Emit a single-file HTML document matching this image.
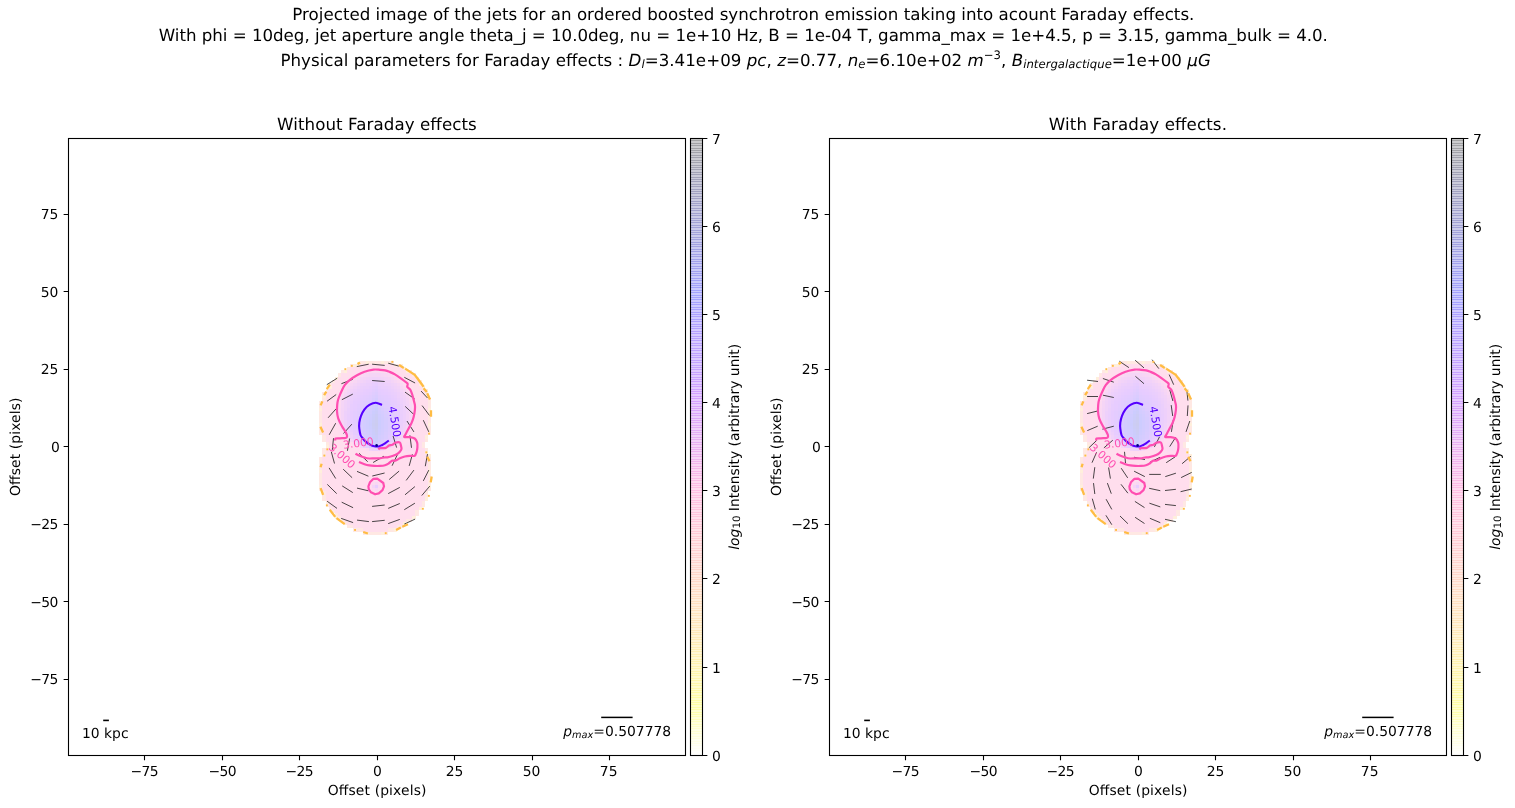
<!DOCTYPE html>
<html lang="en"><head><meta charset="utf-8"><title>Projected image of the jets</title>
<style>html,body{margin:0;padding:0;background:#fff}svg{display:block;will-change:transform;font-family:"DejaVu Sans","Liberation Sans",sans-serif;fill:#000;text-rendering:geometricPrecision}</style></head><body>
<svg width="1515" height="808" viewBox="0 0 1515 808">
<rect width="1515" height="808" fill="#fff"/>
<text x="743.35" y="19.80" font-size="16.667" text-anchor="middle" textLength="902.1">Projected image of the jets for an ordered boosted synchrotron emission taking into acount Faraday effects.</text>
<text x="743.30" y="41.30" font-size="16.667" text-anchor="middle" textLength="1169.1">With phi = 10deg, jet aperture angle theta_j = 10.0deg, nu = 1e+10 Hz, B = 1e-04 T, gamma_max = 1e+4.5, p = 3.15, gamma_bulk = 4.0.</text>
<text x="745.65" y="65.6" font-size="16.667" text-anchor="middle" textLength="930.4">Physical parameters for Faraday effects : <tspan font-style="italic">D</tspan><tspan font-style="italic" font-size="11.67" dy="2.6">l</tspan><tspan dy="-2.6">=3.41e+09 </tspan><tspan font-style="italic">pc</tspan>, <tspan font-style="italic">z</tspan>=0.77, <tspan font-style="italic">n</tspan><tspan font-style="italic" font-size="11.67" dy="2.6">e</tspan><tspan dy="-2.6">=6.10e+02 </tspan><tspan font-style="italic">m</tspan><tspan font-size="11.67" dy="-6.3">−3</tspan><tspan dy="6.3">, </tspan><tspan font-style="italic">B</tspan><tspan font-style="italic" font-size="11.67" dy="2.6">intergalactique</tspan><tspan dy="-2.6">=1e+00 </tspan><tspan font-style="italic">μG</tspan></text>
<g transform="translate(0.0,0)">
<g id="jetimg"><g shape-rendering="crispEdges"><rect x="359.6" y="361.0" width="6.3" height="3.15" fill="#ffe8e3"/><rect x="365.8" y="361.0" width="3.2" height="3.15" fill="#ffefdc"/><rect x="368.9" y="361.0" width="12.5" height="3.15" fill="#ffe8e3"/><rect x="381.3" y="361.0" width="3.2" height="3.15" fill="#ffefdc"/><rect x="384.4" y="361.0" width="9.4" height="3.15" fill="#ffe8e3"/><rect x="350.3" y="364.1" width="3.2" height="3.15" fill="#ffe8e3"/><rect x="353.4" y="364.1" width="3.2" height="3.15" fill="#ffefdc"/><rect x="356.5" y="364.1" width="3.2" height="3.15" fill="#ffe8e3"/><rect x="359.6" y="364.1" width="9.4" height="3.15" fill="#ffdeed"/><rect x="368.9" y="364.1" width="12.5" height="3.15" fill="#ffddee"/><rect x="381.3" y="364.1" width="12.5" height="3.15" fill="#ffdeed"/><rect x="393.7" y="364.1" width="6.3" height="3.15" fill="#ffe8e3"/><rect x="399.9" y="364.1" width="3.2" height="3.15" fill="#ffefdc"/><rect x="347.2" y="367.2" width="3.2" height="3.15" fill="#ffe8e3"/><rect x="350.3" y="367.2" width="9.4" height="3.15" fill="#ffdeed"/><rect x="359.6" y="367.2" width="6.3" height="3.15" fill="#ffddee"/><rect x="365.8" y="367.2" width="21.8" height="3.15" fill="#ffdcef"/><rect x="387.5" y="367.2" width="6.3" height="3.15" fill="#ffddee"/><rect x="393.7" y="367.2" width="9.4" height="3.15" fill="#ffdeed"/><rect x="403.0" y="367.2" width="3.2" height="3.15" fill="#ffefdc"/><rect x="341.0" y="370.3" width="3.2" height="3.15" fill="#ffe8e3"/><rect x="344.1" y="370.3" width="3.2" height="3.15" fill="#ffefdc"/><rect x="347.2" y="370.3" width="6.3" height="3.15" fill="#ffdeed"/><rect x="353.4" y="370.3" width="3.2" height="3.15" fill="#ffddee"/><rect x="356.5" y="370.3" width="9.4" height="3.15" fill="#ffdcef"/><rect x="365.8" y="370.3" width="3.2" height="3.15" fill="#fcdaf1"/><rect x="368.9" y="370.3" width="12.5" height="3.15" fill="#fbd9f2"/><rect x="381.3" y="370.3" width="3.2" height="3.15" fill="#fcdaf1"/><rect x="384.4" y="370.3" width="3.2" height="3.15" fill="#fedaf1"/><rect x="387.5" y="370.3" width="6.3" height="3.15" fill="#ffdcef"/><rect x="393.7" y="370.3" width="3.2" height="3.15" fill="#ffddee"/><rect x="396.8" y="370.3" width="9.4" height="3.15" fill="#ffdeed"/><rect x="406.1" y="370.3" width="3.2" height="3.15" fill="#ffefdc"/><rect x="409.2" y="370.3" width="3.2" height="3.15" fill="#ffe8e3"/><rect x="337.9" y="373.4" width="3.2" height="3.15" fill="#ffe8e3"/><rect x="341.0" y="373.4" width="9.4" height="3.15" fill="#ffdeed"/><rect x="350.3" y="373.4" width="3.2" height="3.15" fill="#ffddee"/><rect x="353.4" y="373.4" width="3.2" height="3.15" fill="#ffdcef"/><rect x="356.5" y="373.4" width="3.2" height="3.15" fill="#fedaf1"/><rect x="359.6" y="373.4" width="3.2" height="3.15" fill="#fbd9f2"/><rect x="362.7" y="373.4" width="3.2" height="3.15" fill="#f8d7f4"/><rect x="365.8" y="373.4" width="3.2" height="3.15" fill="#f7d6f5"/><rect x="368.9" y="373.4" width="12.5" height="3.15" fill="#f5d5f6"/><rect x="381.3" y="373.4" width="3.2" height="3.15" fill="#f7d6f5"/><rect x="384.4" y="373.4" width="3.2" height="3.15" fill="#f8d7f4"/><rect x="387.5" y="373.4" width="3.2" height="3.15" fill="#fad8f3"/><rect x="390.6" y="373.4" width="3.2" height="3.15" fill="#fcdaf1"/><rect x="393.7" y="373.4" width="6.3" height="3.15" fill="#ffdcef"/><rect x="399.9" y="373.4" width="3.2" height="3.15" fill="#ffddee"/><rect x="403.0" y="373.4" width="9.4" height="3.15" fill="#ffdeed"/><rect x="412.3" y="373.4" width="3.2" height="3.15" fill="#ffe8e3"/><rect x="334.8" y="376.5" width="3.2" height="3.15" fill="#ffefdc"/><rect x="337.9" y="376.5" width="9.4" height="3.15" fill="#ffdeed"/><rect x="347.2" y="376.5" width="3.2" height="3.15" fill="#ffddee"/><rect x="350.3" y="376.5" width="3.2" height="3.15" fill="#ffdcef"/><rect x="353.4" y="376.5" width="3.2" height="3.15" fill="#fcdaf1"/><rect x="356.5" y="376.5" width="3.2" height="3.15" fill="#f8d7f4"/><rect x="359.6" y="376.5" width="3.2" height="3.15" fill="#f5d5f6"/><rect x="362.7" y="376.5" width="3.2" height="3.15" fill="#f4d4f7"/><rect x="365.8" y="376.5" width="3.2" height="3.15" fill="#f2d3f8"/><rect x="368.9" y="376.5" width="3.2" height="3.15" fill="#f1d2f9"/><rect x="372.0" y="376.5" width="6.3" height="3.15" fill="#f0d2f9"/><rect x="378.2" y="376.5" width="3.2" height="3.15" fill="#f1d2f9"/><rect x="381.3" y="376.5" width="3.2" height="3.15" fill="#f2d3f8"/><rect x="384.4" y="376.5" width="3.2" height="3.15" fill="#f4d4f7"/><rect x="387.5" y="376.5" width="3.2" height="3.15" fill="#f5d5f6"/><rect x="390.6" y="376.5" width="3.2" height="3.15" fill="#f8d7f4"/><rect x="393.7" y="376.5" width="3.2" height="3.15" fill="#fbd9f2"/><rect x="396.8" y="376.5" width="3.2" height="3.15" fill="#fedaf1"/><rect x="399.9" y="376.5" width="3.2" height="3.15" fill="#ffdcef"/><rect x="403.0" y="376.5" width="3.2" height="3.15" fill="#ffddee"/><rect x="406.1" y="376.5" width="9.4" height="3.15" fill="#ffdeed"/><rect x="415.4" y="376.5" width="3.2" height="3.15" fill="#ffe8e3"/><rect x="331.7" y="379.6" width="3.2" height="3.15" fill="#ffe8e3"/><rect x="334.8" y="379.6" width="9.4" height="3.15" fill="#ffdeed"/><rect x="344.1" y="379.6" width="3.2" height="3.15" fill="#ffddee"/><rect x="347.2" y="379.6" width="3.2" height="3.15" fill="#ffdcef"/><rect x="350.3" y="379.6" width="3.2" height="3.15" fill="#fbd9f2"/><rect x="353.4" y="379.6" width="3.2" height="3.15" fill="#f8d7f4"/><rect x="356.5" y="379.6" width="3.2" height="3.15" fill="#f4d4f7"/><rect x="359.6" y="379.6" width="3.2" height="3.15" fill="#f2d3f8"/><rect x="362.7" y="379.6" width="3.2" height="3.15" fill="#f0d2f9"/><rect x="365.8" y="379.6" width="6.3" height="3.15" fill="#eed0fb"/><rect x="372.0" y="379.6" width="3.2" height="3.15" fill="#ebcffc"/><rect x="375.1" y="379.6" width="3.2" height="3.15" fill="#eacefd"/><rect x="378.2" y="379.6" width="6.3" height="3.15" fill="#eed0fb"/><rect x="384.4" y="379.6" width="3.2" height="3.15" fill="#f0d2f9"/><rect x="387.5" y="379.6" width="3.2" height="3.15" fill="#f1d2f9"/><rect x="390.6" y="379.6" width="3.2" height="3.15" fill="#f4d4f7"/><rect x="393.7" y="379.6" width="3.2" height="3.15" fill="#f7d6f5"/><rect x="396.8" y="379.6" width="3.2" height="3.15" fill="#fad8f3"/><rect x="399.9" y="379.6" width="3.2" height="3.15" fill="#fedaf1"/><rect x="403.0" y="379.6" width="3.2" height="3.15" fill="#ffdcef"/><rect x="406.1" y="379.6" width="3.2" height="3.15" fill="#ffddee"/><rect x="409.2" y="379.6" width="9.4" height="3.15" fill="#ffdeed"/><rect x="418.5" y="379.6" width="3.2" height="3.15" fill="#ffe8e3"/><rect x="328.6" y="382.7" width="3.2" height="3.15" fill="#ffe8e3"/><rect x="331.7" y="382.7" width="9.4" height="3.15" fill="#ffdeed"/><rect x="341.0" y="382.7" width="3.2" height="3.15" fill="#ffddee"/><rect x="344.1" y="382.7" width="3.2" height="3.15" fill="#ffdcef"/><rect x="347.2" y="382.7" width="3.2" height="3.15" fill="#fcdaf1"/><rect x="350.3" y="382.7" width="3.2" height="3.15" fill="#f7d6f5"/><rect x="353.4" y="382.7" width="3.2" height="3.15" fill="#f4d4f7"/><rect x="356.5" y="382.7" width="3.2" height="3.15" fill="#f1d2f9"/><rect x="359.6" y="382.7" width="3.2" height="3.15" fill="#eed0fb"/><rect x="362.7" y="382.7" width="3.2" height="3.15" fill="#edd0fb"/><rect x="365.8" y="382.7" width="6.3" height="3.15" fill="#ebcffc"/><rect x="372.0" y="382.7" width="3.2" height="3.15" fill="#e8cdfe"/><rect x="375.1" y="382.7" width="3.2" height="3.15" fill="#e7ccff"/><rect x="378.2" y="382.7" width="6.3" height="3.15" fill="#ebcffc"/><rect x="384.4" y="382.7" width="3.2" height="3.15" fill="#edd0fb"/><rect x="387.5" y="382.7" width="3.2" height="3.15" fill="#eed0fb"/><rect x="390.6" y="382.7" width="3.2" height="3.15" fill="#f0d2f9"/><rect x="393.7" y="382.7" width="3.2" height="3.15" fill="#f2d3f8"/><rect x="396.8" y="382.7" width="3.2" height="3.15" fill="#f5d5f6"/><rect x="399.9" y="382.7" width="3.2" height="3.15" fill="#fad8f3"/><rect x="403.0" y="382.7" width="3.2" height="3.15" fill="#fedaf1"/><rect x="406.1" y="382.7" width="3.2" height="3.15" fill="#ffdcef"/><rect x="409.2" y="382.7" width="9.4" height="3.15" fill="#ffdeed"/><rect x="418.5" y="382.7" width="3.2" height="3.15" fill="#ffefdc"/><rect x="328.6" y="385.8" width="3.2" height="3.15" fill="#ffefdc"/><rect x="331.7" y="385.8" width="9.4" height="3.15" fill="#ffdeed"/><rect x="341.0" y="385.8" width="3.2" height="3.15" fill="#ffdcef"/><rect x="344.1" y="385.8" width="3.2" height="3.15" fill="#fcdaf1"/><rect x="347.2" y="385.8" width="3.2" height="3.15" fill="#f8d7f4"/><rect x="350.3" y="385.8" width="3.2" height="3.15" fill="#f4d4f7"/><rect x="353.4" y="385.8" width="3.2" height="3.15" fill="#f1d2f9"/><rect x="356.5" y="385.8" width="3.2" height="3.15" fill="#eed0fb"/><rect x="359.6" y="385.8" width="3.2" height="3.15" fill="#ebcffc"/><rect x="362.7" y="385.8" width="6.3" height="3.15" fill="#eacefd"/><rect x="368.9" y="385.8" width="3.2" height="3.15" fill="#e8cdfe"/><rect x="372.0" y="385.8" width="3.2" height="3.15" fill="#e6ccff"/><rect x="375.1" y="385.8" width="3.2" height="3.15" fill="#e3ccff"/><rect x="378.2" y="385.8" width="3.2" height="3.15" fill="#e8cdfe"/><rect x="381.3" y="385.8" width="6.3" height="3.15" fill="#eacefd"/><rect x="387.5" y="385.8" width="3.2" height="3.15" fill="#ebcffc"/><rect x="390.6" y="385.8" width="3.2" height="3.15" fill="#eed0fb"/><rect x="393.7" y="385.8" width="3.2" height="3.15" fill="#f0d2f9"/><rect x="396.8" y="385.8" width="3.2" height="3.15" fill="#f2d3f8"/><rect x="399.9" y="385.8" width="3.2" height="3.15" fill="#f7d6f5"/><rect x="403.0" y="385.8" width="3.2" height="3.15" fill="#fbd9f2"/><rect x="406.1" y="385.8" width="3.2" height="3.15" fill="#ffdcef"/><rect x="409.2" y="385.8" width="3.2" height="3.15" fill="#ffddee"/><rect x="412.3" y="385.8" width="9.4" height="3.15" fill="#ffdeed"/><rect x="421.6" y="385.8" width="3.2" height="3.15" fill="#ffefdc"/><rect x="325.5" y="388.9" width="3.2" height="3.15" fill="#ffe8e3"/><rect x="328.6" y="388.9" width="9.4" height="3.15" fill="#ffdeed"/><rect x="337.9" y="388.9" width="3.2" height="3.15" fill="#ffddee"/><rect x="341.0" y="388.9" width="3.2" height="3.15" fill="#ffdcef"/><rect x="344.1" y="388.9" width="3.2" height="3.15" fill="#fad8f3"/><rect x="347.2" y="388.9" width="3.2" height="3.15" fill="#f5d5f6"/><rect x="350.3" y="388.9" width="3.2" height="3.15" fill="#f1d2f9"/><rect x="353.4" y="388.9" width="3.2" height="3.15" fill="#eed0fb"/><rect x="356.5" y="388.9" width="3.2" height="3.15" fill="#ebcffc"/><rect x="359.6" y="388.9" width="3.2" height="3.15" fill="#eacefd"/><rect x="362.7" y="388.9" width="3.2" height="3.15" fill="#e8cdfe"/><rect x="365.8" y="388.9" width="6.3" height="3.15" fill="#e7ccff"/><rect x="372.0" y="388.9" width="3.2" height="3.15" fill="#e3ccff"/><rect x="375.1" y="388.9" width="3.2" height="3.15" fill="#e0ccff"/><rect x="378.2" y="388.9" width="3.2" height="3.15" fill="#e6ccff"/><rect x="381.3" y="388.9" width="3.2" height="3.15" fill="#e7ccff"/><rect x="384.4" y="388.9" width="3.2" height="3.15" fill="#e8cdfe"/><rect x="387.5" y="388.9" width="3.2" height="3.15" fill="#eacefd"/><rect x="390.6" y="388.9" width="3.2" height="3.15" fill="#ebcffc"/><rect x="393.7" y="388.9" width="3.2" height="3.15" fill="#eed0fb"/><rect x="396.8" y="388.9" width="3.2" height="3.15" fill="#f0d2f9"/><rect x="399.9" y="388.9" width="3.2" height="3.15" fill="#f4d4f7"/><rect x="403.0" y="388.9" width="3.2" height="3.15" fill="#f7d6f5"/><rect x="406.1" y="388.9" width="3.2" height="3.15" fill="#fcdaf1"/><rect x="409.2" y="388.9" width="3.2" height="3.15" fill="#ffdcef"/><rect x="412.3" y="388.9" width="3.2" height="3.15" fill="#ffddee"/><rect x="415.4" y="388.9" width="9.4" height="3.15" fill="#ffdeed"/><rect x="424.7" y="388.9" width="3.2" height="3.15" fill="#ffefdc"/><rect x="322.4" y="392.0" width="3.2" height="3.15" fill="#ffe8e3"/><rect x="325.5" y="392.0" width="12.5" height="3.15" fill="#ffdeed"/><rect x="337.9" y="392.0" width="3.2" height="3.15" fill="#ffdcef"/><rect x="341.0" y="392.0" width="3.2" height="3.15" fill="#fcdaf1"/><rect x="344.1" y="392.0" width="3.2" height="3.15" fill="#f7d6f5"/><rect x="347.2" y="392.0" width="3.2" height="3.15" fill="#f2d3f8"/><rect x="350.3" y="392.0" width="3.2" height="3.15" fill="#eed0fb"/><rect x="353.4" y="392.0" width="3.2" height="3.15" fill="#ebcffc"/><rect x="356.5" y="392.0" width="3.2" height="3.15" fill="#eacefd"/><rect x="359.6" y="392.0" width="3.2" height="3.15" fill="#e8cdfe"/><rect x="362.7" y="392.0" width="3.2" height="3.15" fill="#e7ccff"/><rect x="365.8" y="392.0" width="3.2" height="3.15" fill="#e6ccff"/><rect x="368.9" y="392.0" width="3.2" height="3.15" fill="#e4ccff"/><rect x="372.0" y="392.0" width="3.2" height="3.15" fill="#e0ccff"/><rect x="375.1" y="392.0" width="3.2" height="3.15" fill="#ddccff"/><rect x="378.2" y="392.0" width="3.2" height="3.15" fill="#e4ccff"/><rect x="381.3" y="392.0" width="3.2" height="3.15" fill="#e6ccff"/><rect x="384.4" y="392.0" width="3.2" height="3.15" fill="#e7ccff"/><rect x="387.5" y="392.0" width="3.2" height="3.15" fill="#e8cdfe"/><rect x="390.6" y="392.0" width="3.2" height="3.15" fill="#eacefd"/><rect x="393.7" y="392.0" width="3.2" height="3.15" fill="#ebcffc"/><rect x="396.8" y="392.0" width="3.2" height="3.15" fill="#eed0fb"/><rect x="399.9" y="392.0" width="3.2" height="3.15" fill="#f1d2f9"/><rect x="403.0" y="392.0" width="3.2" height="3.15" fill="#f5d5f6"/><rect x="406.1" y="392.0" width="3.2" height="3.15" fill="#fad8f3"/><rect x="409.2" y="392.0" width="3.2" height="3.15" fill="#ffdcef"/><rect x="412.3" y="392.0" width="3.2" height="3.15" fill="#ffddee"/><rect x="415.4" y="392.0" width="9.4" height="3.15" fill="#ffdeed"/><rect x="424.7" y="392.0" width="3.2" height="3.15" fill="#ffe8e3"/><rect x="322.4" y="395.1" width="3.2" height="3.15" fill="#ffefdc"/><rect x="325.5" y="395.1" width="9.4" height="3.15" fill="#ffdeed"/><rect x="334.8" y="395.1" width="3.2" height="3.15" fill="#ffddee"/><rect x="337.9" y="395.1" width="3.2" height="3.15" fill="#ffdcef"/><rect x="341.0" y="395.1" width="3.2" height="3.15" fill="#fad8f3"/><rect x="344.1" y="395.1" width="3.2" height="3.15" fill="#f4d4f7"/><rect x="347.2" y="395.1" width="3.2" height="3.15" fill="#f0d2f9"/><rect x="350.3" y="395.1" width="3.2" height="3.15" fill="#edd0fb"/><rect x="353.4" y="395.1" width="3.2" height="3.15" fill="#eacefd"/><rect x="356.5" y="395.1" width="3.2" height="3.15" fill="#e8cdfe"/><rect x="359.6" y="395.1" width="3.2" height="3.15" fill="#e6ccff"/><rect x="362.7" y="395.1" width="3.2" height="3.15" fill="#e4ccff"/><rect x="365.8" y="395.1" width="3.2" height="3.15" fill="#e3ccff"/><rect x="368.9" y="395.1" width="3.2" height="3.15" fill="#e1ccff"/><rect x="372.0" y="395.1" width="3.2" height="3.15" fill="#ddccff"/><rect x="375.1" y="395.1" width="3.2" height="3.15" fill="#daccff"/><rect x="378.2" y="395.1" width="3.2" height="3.15" fill="#e1ccff"/><rect x="381.3" y="395.1" width="3.2" height="3.15" fill="#e3ccff"/><rect x="384.4" y="395.1" width="3.2" height="3.15" fill="#e4ccff"/><rect x="387.5" y="395.1" width="3.2" height="3.15" fill="#e6ccff"/><rect x="390.6" y="395.1" width="3.2" height="3.15" fill="#e8cdfe"/><rect x="393.7" y="395.1" width="3.2" height="3.15" fill="#eacefd"/><rect x="396.8" y="395.1" width="3.2" height="3.15" fill="#edd0fb"/><rect x="399.9" y="395.1" width="3.2" height="3.15" fill="#f0d2f9"/><rect x="403.0" y="395.1" width="3.2" height="3.15" fill="#f2d3f8"/><rect x="406.1" y="395.1" width="3.2" height="3.15" fill="#f7d6f5"/><rect x="409.2" y="395.1" width="3.2" height="3.15" fill="#fcdaf1"/><rect x="412.3" y="395.1" width="3.2" height="3.15" fill="#ffdcef"/><rect x="415.4" y="395.1" width="9.4" height="3.15" fill="#ffdeed"/><rect x="424.7" y="395.1" width="3.2" height="3.15" fill="#ffe8e3"/><rect x="322.4" y="398.2" width="3.2" height="3.15" fill="#ffe8e3"/><rect x="325.5" y="398.2" width="9.4" height="3.15" fill="#ffdeed"/><rect x="334.8" y="398.2" width="3.2" height="3.15" fill="#ffdcef"/><rect x="337.9" y="398.2" width="3.2" height="3.15" fill="#fedaf1"/><rect x="341.0" y="398.2" width="3.2" height="3.15" fill="#f8d7f4"/><rect x="344.1" y="398.2" width="3.2" height="3.15" fill="#f2d3f8"/><rect x="347.2" y="398.2" width="3.2" height="3.15" fill="#eed0fb"/><rect x="350.3" y="398.2" width="3.2" height="3.15" fill="#ebcffc"/><rect x="353.4" y="398.2" width="3.2" height="3.15" fill="#e8cdfe"/><rect x="356.5" y="398.2" width="3.2" height="3.15" fill="#e7ccff"/><rect x="359.6" y="398.2" width="3.2" height="3.15" fill="#e4ccff"/><rect x="362.7" y="398.2" width="3.2" height="3.15" fill="#e3ccff"/><rect x="365.8" y="398.2" width="3.2" height="3.15" fill="#e1ccff"/><rect x="368.9" y="398.2" width="3.2" height="3.15" fill="#e0ccff"/><rect x="372.0" y="398.2" width="3.2" height="3.15" fill="#daccff"/><rect x="375.1" y="398.2" width="3.2" height="3.15" fill="#d6ccff"/><rect x="378.2" y="398.2" width="3.2" height="3.15" fill="#e0ccff"/><rect x="381.3" y="398.2" width="3.2" height="3.15" fill="#e1ccff"/><rect x="384.4" y="398.2" width="3.2" height="3.15" fill="#e3ccff"/><rect x="387.5" y="398.2" width="3.2" height="3.15" fill="#e4ccff"/><rect x="390.6" y="398.2" width="3.2" height="3.15" fill="#e7ccff"/><rect x="393.7" y="398.2" width="3.2" height="3.15" fill="#e8cdfe"/><rect x="396.8" y="398.2" width="3.2" height="3.15" fill="#ebcffc"/><rect x="399.9" y="398.2" width="3.2" height="3.15" fill="#eed0fb"/><rect x="403.0" y="398.2" width="3.2" height="3.15" fill="#f1d2f9"/><rect x="406.1" y="398.2" width="3.2" height="3.15" fill="#f5d5f6"/><rect x="409.2" y="398.2" width="3.2" height="3.15" fill="#fbd9f2"/><rect x="412.3" y="398.2" width="3.2" height="3.15" fill="#ffdcef"/><rect x="415.4" y="398.2" width="3.2" height="3.15" fill="#ffddee"/><rect x="418.5" y="398.2" width="9.4" height="3.15" fill="#ffdeed"/><rect x="427.8" y="398.2" width="3.2" height="3.15" fill="#ffe8e3"/><rect x="319.3" y="401.3" width="3.2" height="3.15" fill="#ffe8e3"/><rect x="322.4" y="401.3" width="12.5" height="3.15" fill="#ffdeed"/><rect x="334.8" y="401.3" width="3.2" height="3.15" fill="#ffdcef"/><rect x="337.9" y="401.3" width="3.2" height="3.15" fill="#fcdaf1"/><rect x="341.0" y="401.3" width="3.2" height="3.15" fill="#f5d5f6"/><rect x="344.1" y="401.3" width="3.2" height="3.15" fill="#f1d2f9"/><rect x="347.2" y="401.3" width="3.2" height="3.15" fill="#edd0fb"/><rect x="350.3" y="401.3" width="3.2" height="3.15" fill="#eacefd"/><rect x="353.4" y="401.3" width="3.2" height="3.15" fill="#e7ccff"/><rect x="356.5" y="401.3" width="3.2" height="3.15" fill="#e6ccff"/><rect x="359.6" y="401.3" width="3.2" height="3.15" fill="#e3ccff"/><rect x="362.7" y="401.3" width="3.2" height="3.15" fill="#e0ccff"/><rect x="365.8" y="401.3" width="3.2" height="3.15" fill="#deccff"/><rect x="368.9" y="401.3" width="3.2" height="3.15" fill="#ddccff"/><rect x="372.0" y="401.3" width="3.2" height="3.15" fill="#d7ccff"/><rect x="375.1" y="401.3" width="3.2" height="3.15" fill="#d3ccff"/><rect x="378.2" y="401.3" width="3.2" height="3.15" fill="#ddccff"/><rect x="381.3" y="401.3" width="3.2" height="3.15" fill="#e0ccff"/><rect x="384.4" y="401.3" width="3.2" height="3.15" fill="#e1ccff"/><rect x="387.5" y="401.3" width="3.2" height="3.15" fill="#e3ccff"/><rect x="390.6" y="401.3" width="3.2" height="3.15" fill="#e6ccff"/><rect x="393.7" y="401.3" width="3.2" height="3.15" fill="#e7ccff"/><rect x="396.8" y="401.3" width="3.2" height="3.15" fill="#eacefd"/><rect x="399.9" y="401.3" width="3.2" height="3.15" fill="#edd0fb"/><rect x="403.0" y="401.3" width="3.2" height="3.15" fill="#f0d2f9"/><rect x="406.1" y="401.3" width="3.2" height="3.15" fill="#f4d4f7"/><rect x="409.2" y="401.3" width="3.2" height="3.15" fill="#fad8f3"/><rect x="412.3" y="401.3" width="3.2" height="3.15" fill="#ffdcef"/><rect x="415.4" y="401.3" width="3.2" height="3.15" fill="#ffddee"/><rect x="418.5" y="401.3" width="9.4" height="3.15" fill="#ffdeed"/><rect x="427.8" y="401.3" width="3.2" height="3.15" fill="#ffe8e3"/><rect x="319.3" y="404.4" width="3.2" height="3.15" fill="#ffe8e3"/><rect x="322.4" y="404.4" width="12.5" height="3.15" fill="#ffdeed"/><rect x="334.8" y="404.4" width="3.2" height="3.15" fill="#ffdcef"/><rect x="337.9" y="404.4" width="3.2" height="3.15" fill="#fbd9f2"/><rect x="341.0" y="404.4" width="3.2" height="3.15" fill="#f5d5f6"/><rect x="344.1" y="404.4" width="3.2" height="3.15" fill="#f0d2f9"/><rect x="347.2" y="404.4" width="3.2" height="3.15" fill="#edd0fb"/><rect x="350.3" y="404.4" width="3.2" height="3.15" fill="#e8cdfe"/><rect x="353.4" y="404.4" width="3.2" height="3.15" fill="#e7ccff"/><rect x="356.5" y="404.4" width="3.2" height="3.15" fill="#e4ccff"/><rect x="359.6" y="404.4" width="3.2" height="3.15" fill="#e1ccff"/><rect x="362.7" y="404.4" width="3.2" height="3.15" fill="#deccff"/><rect x="365.8" y="404.4" width="3.2" height="3.15" fill="#dcccff"/><rect x="368.9" y="404.4" width="3.2" height="3.15" fill="#d9ccff"/><rect x="372.0" y="404.4" width="3.2" height="3.15" fill="#d2ccff"/><rect x="375.1" y="404.4" width="3.2" height="3.15" fill="#cdccff"/><rect x="378.2" y="404.4" width="3.2" height="3.15" fill="#d9ccff"/><rect x="381.3" y="404.4" width="3.2" height="3.15" fill="#ddccff"/><rect x="384.4" y="404.4" width="3.2" height="3.15" fill="#e0ccff"/><rect x="387.5" y="404.4" width="3.2" height="3.15" fill="#e1ccff"/><rect x="390.6" y="404.4" width="3.2" height="3.15" fill="#e4ccff"/><rect x="393.7" y="404.4" width="3.2" height="3.15" fill="#e7ccff"/><rect x="396.8" y="404.4" width="3.2" height="3.15" fill="#e8cdfe"/><rect x="399.9" y="404.4" width="3.2" height="3.15" fill="#ebcffc"/><rect x="403.0" y="404.4" width="3.2" height="3.15" fill="#f0d2f9"/><rect x="406.1" y="404.4" width="3.2" height="3.15" fill="#f2d3f8"/><rect x="409.2" y="404.4" width="3.2" height="3.15" fill="#f8d7f4"/><rect x="412.3" y="404.4" width="3.2" height="3.15" fill="#fedaf1"/><rect x="415.4" y="404.4" width="3.2" height="3.15" fill="#ffddee"/><rect x="418.5" y="404.4" width="9.4" height="3.15" fill="#ffdeed"/><rect x="427.8" y="404.4" width="3.2" height="3.15" fill="#ffe8e3"/><rect x="319.3" y="407.5" width="3.2" height="3.15" fill="#ffefdc"/><rect x="322.4" y="407.5" width="9.4" height="3.15" fill="#ffdeed"/><rect x="331.7" y="407.5" width="3.2" height="3.15" fill="#ffddee"/><rect x="334.8" y="407.5" width="3.2" height="3.15" fill="#ffdcef"/><rect x="337.9" y="407.5" width="3.2" height="3.15" fill="#fad8f3"/><rect x="341.0" y="407.5" width="3.2" height="3.15" fill="#f4d4f7"/><rect x="344.1" y="407.5" width="3.2" height="3.15" fill="#f0d2f9"/><rect x="347.2" y="407.5" width="3.2" height="3.15" fill="#ebcffc"/><rect x="350.3" y="407.5" width="3.2" height="3.15" fill="#e8cdfe"/><rect x="353.4" y="407.5" width="3.2" height="3.15" fill="#e6ccff"/><rect x="356.5" y="407.5" width="3.2" height="3.15" fill="#e3ccff"/><rect x="359.6" y="407.5" width="3.2" height="3.15" fill="#e0ccff"/><rect x="362.7" y="407.5" width="3.2" height="3.15" fill="#dcccff"/><rect x="365.8" y="407.5" width="3.2" height="3.15" fill="#d7ccff"/><rect x="368.9" y="407.5" width="3.2" height="3.15" fill="#d4ccff"/><rect x="372.0" y="407.5" width="3.2" height="3.15" fill="#cfccff"/><rect x="375.1" y="407.5" width="3.2" height="3.15" fill="#ccccfd"/><rect x="378.2" y="407.5" width="3.2" height="3.15" fill="#d4ccff"/><rect x="381.3" y="407.5" width="3.2" height="3.15" fill="#d9ccff"/><rect x="384.4" y="407.5" width="3.2" height="3.15" fill="#deccff"/><rect x="387.5" y="407.5" width="3.2" height="3.15" fill="#e0ccff"/><rect x="390.6" y="407.5" width="3.2" height="3.15" fill="#e3ccff"/><rect x="393.7" y="407.5" width="3.2" height="3.15" fill="#e6ccff"/><rect x="396.8" y="407.5" width="3.2" height="3.15" fill="#e8cdfe"/><rect x="399.9" y="407.5" width="3.2" height="3.15" fill="#ebcffc"/><rect x="403.0" y="407.5" width="3.2" height="3.15" fill="#eed0fb"/><rect x="406.1" y="407.5" width="3.2" height="3.15" fill="#f2d3f8"/><rect x="409.2" y="407.5" width="3.2" height="3.15" fill="#f7d6f5"/><rect x="412.3" y="407.5" width="3.2" height="3.15" fill="#fedaf1"/><rect x="415.4" y="407.5" width="3.2" height="3.15" fill="#ffdcef"/><rect x="418.5" y="407.5" width="9.4" height="3.15" fill="#ffdeed"/><rect x="427.8" y="407.5" width="3.2" height="3.15" fill="#ffefdc"/><rect x="319.3" y="410.6" width="3.2" height="3.15" fill="#ffe8e3"/><rect x="322.4" y="410.6" width="9.4" height="3.15" fill="#ffdeed"/><rect x="331.7" y="410.6" width="3.2" height="3.15" fill="#ffddee"/><rect x="334.8" y="410.6" width="3.2" height="3.15" fill="#ffdcef"/><rect x="337.9" y="410.6" width="3.2" height="3.15" fill="#fad8f3"/><rect x="341.0" y="410.6" width="3.2" height="3.15" fill="#f4d4f7"/><rect x="344.1" y="410.6" width="3.2" height="3.15" fill="#eed0fb"/><rect x="347.2" y="410.6" width="3.2" height="3.15" fill="#ebcffc"/><rect x="350.3" y="410.6" width="3.2" height="3.15" fill="#e7ccff"/><rect x="353.4" y="410.6" width="3.2" height="3.15" fill="#e4ccff"/><rect x="356.5" y="410.6" width="3.2" height="3.15" fill="#e1ccff"/><rect x="359.6" y="410.6" width="3.2" height="3.15" fill="#ddccff"/><rect x="362.7" y="410.6" width="3.2" height="3.15" fill="#d9ccff"/><rect x="365.8" y="410.6" width="3.2" height="3.15" fill="#d4ccff"/><rect x="368.9" y="410.6" width="3.2" height="3.15" fill="#d3ccff"/><rect x="372.0" y="410.6" width="3.2" height="3.15" fill="#ccccfe"/><rect x="375.1" y="410.6" width="3.2" height="3.15" fill="#ccccfa"/><rect x="378.2" y="410.6" width="3.2" height="3.15" fill="#d3ccff"/><rect x="381.3" y="410.6" width="3.2" height="3.15" fill="#d6ccff"/><rect x="384.4" y="410.6" width="3.2" height="3.15" fill="#daccff"/><rect x="387.5" y="410.6" width="3.2" height="3.15" fill="#e0ccff"/><rect x="390.6" y="410.6" width="3.2" height="3.15" fill="#e3ccff"/><rect x="393.7" y="410.6" width="3.2" height="3.15" fill="#e6ccff"/><rect x="396.8" y="410.6" width="3.2" height="3.15" fill="#e8cdfe"/><rect x="399.9" y="410.6" width="3.2" height="3.15" fill="#ebcffc"/><rect x="403.0" y="410.6" width="3.2" height="3.15" fill="#eed0fb"/><rect x="406.1" y="410.6" width="3.2" height="3.15" fill="#f2d3f8"/><rect x="409.2" y="410.6" width="3.2" height="3.15" fill="#f7d6f5"/><rect x="412.3" y="410.6" width="3.2" height="3.15" fill="#fcdaf1"/><rect x="415.4" y="410.6" width="3.2" height="3.15" fill="#ffdcef"/><rect x="418.5" y="410.6" width="9.4" height="3.15" fill="#ffdeed"/><rect x="427.8" y="410.6" width="3.2" height="3.15" fill="#ffe8e3"/><rect x="319.3" y="413.7" width="3.2" height="3.15" fill="#ffe8e3"/><rect x="322.4" y="413.7" width="9.4" height="3.15" fill="#ffdeed"/><rect x="331.7" y="413.7" width="3.2" height="3.15" fill="#ffddee"/><rect x="334.8" y="413.7" width="3.2" height="3.15" fill="#ffdcef"/><rect x="337.9" y="413.7" width="3.2" height="3.15" fill="#fad8f3"/><rect x="341.0" y="413.7" width="3.2" height="3.15" fill="#f4d4f7"/><rect x="344.1" y="413.7" width="3.2" height="3.15" fill="#eed0fb"/><rect x="347.2" y="413.7" width="3.2" height="3.15" fill="#eacefd"/><rect x="350.3" y="413.7" width="3.2" height="3.15" fill="#e7ccff"/><rect x="353.4" y="413.7" width="3.2" height="3.15" fill="#e4ccff"/><rect x="356.5" y="413.7" width="3.2" height="3.15" fill="#e0ccff"/><rect x="359.6" y="413.7" width="3.2" height="3.15" fill="#dcccff"/><rect x="362.7" y="413.7" width="3.2" height="3.15" fill="#d6ccff"/><rect x="365.8" y="413.7" width="3.2" height="3.15" fill="#d3ccff"/><rect x="368.9" y="413.7" width="3.2" height="3.15" fill="#d0ccff"/><rect x="372.0" y="413.7" width="3.2" height="3.15" fill="#ccccfb"/><rect x="375.1" y="413.7" width="3.2" height="3.15" fill="#ccccf6"/><rect x="378.2" y="413.7" width="3.2" height="3.15" fill="#d0ccff"/><rect x="381.3" y="413.7" width="3.2" height="3.15" fill="#d4ccff"/><rect x="384.4" y="413.7" width="3.2" height="3.15" fill="#d9ccff"/><rect x="387.5" y="413.7" width="3.2" height="3.15" fill="#deccff"/><rect x="390.6" y="413.7" width="3.2" height="3.15" fill="#e1ccff"/><rect x="393.7" y="413.7" width="3.2" height="3.15" fill="#e4ccff"/><rect x="396.8" y="413.7" width="3.2" height="3.15" fill="#e7ccff"/><rect x="399.9" y="413.7" width="3.2" height="3.15" fill="#eacefd"/><rect x="403.0" y="413.7" width="3.2" height="3.15" fill="#eed0fb"/><rect x="406.1" y="413.7" width="3.2" height="3.15" fill="#f2d3f8"/><rect x="409.2" y="413.7" width="3.2" height="3.15" fill="#f7d6f5"/><rect x="412.3" y="413.7" width="3.2" height="3.15" fill="#fcdaf1"/><rect x="415.4" y="413.7" width="3.2" height="3.15" fill="#ffdcef"/><rect x="418.5" y="413.7" width="9.4" height="3.15" fill="#ffdeed"/><rect x="427.8" y="413.7" width="3.2" height="3.15" fill="#ffe8e3"/><rect x="319.3" y="416.8" width="3.2" height="3.15" fill="#ffe8e3"/><rect x="322.4" y="416.8" width="12.5" height="3.15" fill="#ffdeed"/><rect x="334.8" y="416.8" width="3.2" height="3.15" fill="#ffdcef"/><rect x="337.9" y="416.8" width="3.2" height="3.15" fill="#fad8f3"/><rect x="341.0" y="416.8" width="3.2" height="3.15" fill="#f4d4f7"/><rect x="344.1" y="416.8" width="3.2" height="3.15" fill="#eed0fb"/><rect x="347.2" y="416.8" width="3.2" height="3.15" fill="#eacefd"/><rect x="350.3" y="416.8" width="3.2" height="3.15" fill="#e7ccff"/><rect x="353.4" y="416.8" width="3.2" height="3.15" fill="#e4ccff"/><rect x="356.5" y="416.8" width="3.2" height="3.15" fill="#e0ccff"/><rect x="359.6" y="416.8" width="3.2" height="3.15" fill="#d9ccff"/><rect x="362.7" y="416.8" width="3.2" height="3.15" fill="#d4ccff"/><rect x="365.8" y="416.8" width="3.2" height="3.15" fill="#d2ccff"/><rect x="368.9" y="416.8" width="3.2" height="3.15" fill="#cfccff"/><rect x="372.0" y="416.8" width="3.2" height="3.15" fill="#ccccfa"/><rect x="375.1" y="416.8" width="3.2" height="3.15" fill="#ccccf4"/><rect x="378.2" y="416.8" width="3.2" height="3.15" fill="#cfccff"/><rect x="381.3" y="416.8" width="3.2" height="3.15" fill="#d3ccff"/><rect x="384.4" y="416.8" width="3.2" height="3.15" fill="#d7ccff"/><rect x="387.5" y="416.8" width="3.2" height="3.15" fill="#ddccff"/><rect x="390.6" y="416.8" width="3.2" height="3.15" fill="#e1ccff"/><rect x="393.7" y="416.8" width="3.2" height="3.15" fill="#e4ccff"/><rect x="396.8" y="416.8" width="3.2" height="3.15" fill="#e7ccff"/><rect x="399.9" y="416.8" width="3.2" height="3.15" fill="#eacefd"/><rect x="403.0" y="416.8" width="3.2" height="3.15" fill="#eed0fb"/><rect x="406.1" y="416.8" width="3.2" height="3.15" fill="#f2d3f8"/><rect x="409.2" y="416.8" width="3.2" height="3.15" fill="#f7d6f5"/><rect x="412.3" y="416.8" width="3.2" height="3.15" fill="#fedaf1"/><rect x="415.4" y="416.8" width="3.2" height="3.15" fill="#ffdcef"/><rect x="418.5" y="416.8" width="9.4" height="3.15" fill="#ffdeed"/><rect x="427.8" y="416.8" width="3.2" height="3.15" fill="#ffe8e3"/><rect x="319.3" y="419.9" width="3.2" height="3.15" fill="#ffe8e3"/><rect x="322.4" y="419.9" width="12.5" height="3.15" fill="#ffdeed"/><rect x="334.8" y="419.9" width="3.2" height="3.15" fill="#ffdcef"/><rect x="337.9" y="419.9" width="3.2" height="3.15" fill="#fbd9f2"/><rect x="341.0" y="419.9" width="3.2" height="3.15" fill="#f5d5f6"/><rect x="344.1" y="419.9" width="3.2" height="3.15" fill="#f0d2f9"/><rect x="347.2" y="419.9" width="3.2" height="3.15" fill="#ebcffc"/><rect x="350.3" y="419.9" width="3.2" height="3.15" fill="#e7ccff"/><rect x="353.4" y="419.9" width="3.2" height="3.15" fill="#e3ccff"/><rect x="356.5" y="419.9" width="3.2" height="3.15" fill="#deccff"/><rect x="359.6" y="419.9" width="3.2" height="3.15" fill="#d9ccff"/><rect x="362.7" y="419.9" width="3.2" height="3.15" fill="#d3ccff"/><rect x="365.8" y="419.9" width="3.2" height="3.15" fill="#d0ccff"/><rect x="368.9" y="419.9" width="3.2" height="3.15" fill="#cdccff"/><rect x="372.0" y="419.9" width="3.2" height="3.15" fill="#ccccf6"/><rect x="375.1" y="419.9" width="3.2" height="3.15" fill="#ccccf2"/><rect x="378.2" y="419.9" width="3.2" height="3.15" fill="#cdccff"/><rect x="381.3" y="419.9" width="3.2" height="3.15" fill="#d2ccff"/><rect x="384.4" y="419.9" width="3.2" height="3.15" fill="#d6ccff"/><rect x="387.5" y="419.9" width="3.2" height="3.15" fill="#dcccff"/><rect x="390.6" y="419.9" width="3.2" height="3.15" fill="#e1ccff"/><rect x="393.7" y="419.9" width="3.2" height="3.15" fill="#e4ccff"/><rect x="396.8" y="419.9" width="3.2" height="3.15" fill="#e7ccff"/><rect x="399.9" y="419.9" width="3.2" height="3.15" fill="#ebcffc"/><rect x="403.0" y="419.9" width="3.2" height="3.15" fill="#eed0fb"/><rect x="406.1" y="419.9" width="3.2" height="3.15" fill="#f2d3f8"/><rect x="409.2" y="419.9" width="3.2" height="3.15" fill="#f8d7f4"/><rect x="412.3" y="419.9" width="3.2" height="3.15" fill="#ffdcef"/><rect x="415.4" y="419.9" width="3.2" height="3.15" fill="#ffddee"/><rect x="418.5" y="419.9" width="9.4" height="3.15" fill="#ffdeed"/><rect x="427.8" y="419.9" width="3.2" height="3.15" fill="#ffe8e3"/><rect x="319.3" y="423.0" width="3.2" height="3.15" fill="#ffefdc"/><rect x="322.4" y="423.0" width="12.5" height="3.15" fill="#ffdeed"/><rect x="334.8" y="423.0" width="3.2" height="3.15" fill="#ffdcef"/><rect x="337.9" y="423.0" width="3.2" height="3.15" fill="#fedaf1"/><rect x="341.0" y="423.0" width="3.2" height="3.15" fill="#f7d6f5"/><rect x="344.1" y="423.0" width="3.2" height="3.15" fill="#f0d2f9"/><rect x="347.2" y="423.0" width="3.2" height="3.15" fill="#ebcffc"/><rect x="350.3" y="423.0" width="3.2" height="3.15" fill="#e7ccff"/><rect x="353.4" y="423.0" width="3.2" height="3.15" fill="#e4ccff"/><rect x="356.5" y="423.0" width="3.2" height="3.15" fill="#deccff"/><rect x="359.6" y="423.0" width="3.2" height="3.15" fill="#d7ccff"/><rect x="362.7" y="423.0" width="3.2" height="3.15" fill="#d3ccff"/><rect x="365.8" y="423.0" width="3.2" height="3.15" fill="#d0ccff"/><rect x="368.9" y="423.0" width="3.2" height="3.15" fill="#ccccfe"/><rect x="372.0" y="423.0" width="3.2" height="3.15" fill="#ccccf4"/><rect x="375.1" y="423.0" width="3.2" height="3.15" fill="#ccccf0"/><rect x="378.2" y="423.0" width="3.2" height="3.15" fill="#cdccff"/><rect x="381.3" y="423.0" width="3.2" height="3.15" fill="#d2ccff"/><rect x="384.4" y="423.0" width="3.2" height="3.15" fill="#d6ccff"/><rect x="387.5" y="423.0" width="3.2" height="3.15" fill="#dcccff"/><rect x="390.6" y="423.0" width="3.2" height="3.15" fill="#e1ccff"/><rect x="393.7" y="423.0" width="3.2" height="3.15" fill="#e4ccff"/><rect x="396.8" y="423.0" width="3.2" height="3.15" fill="#e8cdfe"/><rect x="399.9" y="423.0" width="3.2" height="3.15" fill="#ebcffc"/><rect x="403.0" y="423.0" width="3.2" height="3.15" fill="#f0d2f9"/><rect x="406.1" y="423.0" width="3.2" height="3.15" fill="#f4d4f7"/><rect x="409.2" y="423.0" width="3.2" height="3.15" fill="#fad8f3"/><rect x="412.3" y="423.0" width="3.2" height="3.15" fill="#ffdcef"/><rect x="415.4" y="423.0" width="3.2" height="3.15" fill="#ffddee"/><rect x="418.5" y="423.0" width="9.4" height="3.15" fill="#ffdeed"/><rect x="427.8" y="423.0" width="3.2" height="3.15" fill="#ffefdc"/><rect x="319.3" y="426.1" width="3.2" height="3.15" fill="#ffe8e3"/><rect x="322.4" y="426.1" width="12.5" height="3.15" fill="#ffdeed"/><rect x="334.8" y="426.1" width="3.2" height="3.15" fill="#ffddee"/><rect x="337.9" y="426.1" width="3.2" height="3.15" fill="#ffdcef"/><rect x="341.0" y="426.1" width="3.2" height="3.15" fill="#f8d7f4"/><rect x="344.1" y="426.1" width="3.2" height="3.15" fill="#f2d3f8"/><rect x="347.2" y="426.1" width="3.2" height="3.15" fill="#edd0fb"/><rect x="350.3" y="426.1" width="3.2" height="3.15" fill="#e8cdfe"/><rect x="353.4" y="426.1" width="3.2" height="3.15" fill="#e4ccff"/><rect x="356.5" y="426.1" width="3.2" height="3.15" fill="#e0ccff"/><rect x="359.6" y="426.1" width="3.2" height="3.15" fill="#d9ccff"/><rect x="362.7" y="426.1" width="3.2" height="3.15" fill="#d3ccff"/><rect x="365.8" y="426.1" width="3.2" height="3.15" fill="#d0ccff"/><rect x="368.9" y="426.1" width="3.2" height="3.15" fill="#cdccff"/><rect x="372.0" y="426.1" width="3.2" height="3.15" fill="#ccccf6"/><rect x="375.1" y="426.1" width="3.2" height="3.15" fill="#ccccf2"/><rect x="378.2" y="426.1" width="3.2" height="3.15" fill="#cdccff"/><rect x="381.3" y="426.1" width="3.2" height="3.15" fill="#d2ccff"/><rect x="384.4" y="426.1" width="3.2" height="3.15" fill="#d6ccff"/><rect x="387.5" y="426.1" width="3.2" height="3.15" fill="#dcccff"/><rect x="390.6" y="426.1" width="3.2" height="3.15" fill="#e1ccff"/><rect x="393.7" y="426.1" width="3.2" height="3.15" fill="#e6ccff"/><rect x="396.8" y="426.1" width="3.2" height="3.15" fill="#e8cdfe"/><rect x="399.9" y="426.1" width="3.2" height="3.15" fill="#edd0fb"/><rect x="403.0" y="426.1" width="3.2" height="3.15" fill="#f1d2f9"/><rect x="406.1" y="426.1" width="3.2" height="3.15" fill="#f7d6f5"/><rect x="409.2" y="426.1" width="3.2" height="3.15" fill="#fcdaf1"/><rect x="412.3" y="426.1" width="3.2" height="3.15" fill="#ffdcef"/><rect x="415.4" y="426.1" width="12.5" height="3.15" fill="#ffdeed"/><rect x="427.8" y="426.1" width="3.2" height="3.15" fill="#ffe8e3"/><rect x="319.3" y="429.2" width="3.2" height="3.15" fill="#ffe8e3"/><rect x="322.4" y="429.2" width="15.6" height="3.15" fill="#ffdeed"/><rect x="337.9" y="429.2" width="3.2" height="3.15" fill="#ffdcef"/><rect x="341.0" y="429.2" width="3.2" height="3.15" fill="#fcdaf1"/><rect x="344.1" y="429.2" width="3.2" height="3.15" fill="#f5d5f6"/><rect x="347.2" y="429.2" width="3.2" height="3.15" fill="#f0d2f9"/><rect x="350.3" y="429.2" width="3.2" height="3.15" fill="#eacefd"/><rect x="353.4" y="429.2" width="3.2" height="3.15" fill="#e6ccff"/><rect x="356.5" y="429.2" width="3.2" height="3.15" fill="#e0ccff"/><rect x="359.6" y="429.2" width="3.2" height="3.15" fill="#d9ccff"/><rect x="362.7" y="429.2" width="3.2" height="3.15" fill="#d4ccff"/><rect x="365.8" y="429.2" width="3.2" height="3.15" fill="#d2ccff"/><rect x="368.9" y="429.2" width="3.2" height="3.15" fill="#cfccff"/><rect x="372.0" y="429.2" width="3.2" height="3.15" fill="#ccccfa"/><rect x="375.1" y="429.2" width="3.2" height="3.15" fill="#ccccf4"/><rect x="378.2" y="429.2" width="3.2" height="3.15" fill="#cfccff"/><rect x="381.3" y="429.2" width="3.2" height="3.15" fill="#d3ccff"/><rect x="384.4" y="429.2" width="3.2" height="3.15" fill="#d7ccff"/><rect x="387.5" y="429.2" width="3.2" height="3.15" fill="#ddccff"/><rect x="390.6" y="429.2" width="3.2" height="3.15" fill="#e3ccff"/><rect x="393.7" y="429.2" width="3.2" height="3.15" fill="#e7ccff"/><rect x="396.8" y="429.2" width="3.2" height="3.15" fill="#eacefd"/><rect x="399.9" y="429.2" width="3.2" height="3.15" fill="#eed0fb"/><rect x="403.0" y="429.2" width="3.2" height="3.15" fill="#f2d3f8"/><rect x="406.1" y="429.2" width="3.2" height="3.15" fill="#fad8f3"/><rect x="409.2" y="429.2" width="3.2" height="3.15" fill="#ffdcef"/><rect x="412.3" y="429.2" width="3.2" height="3.15" fill="#ffddee"/><rect x="415.4" y="429.2" width="12.5" height="3.15" fill="#ffdeed"/><rect x="427.8" y="429.2" width="3.2" height="3.15" fill="#ffe8e3"/><rect x="319.3" y="432.3" width="3.2" height="3.15" fill="#ffe8e3"/><rect x="322.4" y="432.3" width="15.6" height="3.15" fill="#ffdeed"/><rect x="337.9" y="432.3" width="3.2" height="3.15" fill="#ffddee"/><rect x="341.0" y="432.3" width="3.2" height="3.15" fill="#ffdcef"/><rect x="344.1" y="432.3" width="3.2" height="3.15" fill="#fad8f3"/><rect x="347.2" y="432.3" width="3.2" height="3.15" fill="#f2d3f8"/><rect x="350.3" y="432.3" width="3.2" height="3.15" fill="#edd0fb"/><rect x="353.4" y="432.3" width="3.2" height="3.15" fill="#e7ccff"/><rect x="356.5" y="432.3" width="3.2" height="3.15" fill="#e3ccff"/><rect x="359.6" y="432.3" width="3.2" height="3.15" fill="#dcccff"/><rect x="362.7" y="432.3" width="3.2" height="3.15" fill="#d6ccff"/><rect x="365.8" y="432.3" width="3.2" height="3.15" fill="#d3ccff"/><rect x="368.9" y="432.3" width="3.2" height="3.15" fill="#d0ccff"/><rect x="372.0" y="432.3" width="3.2" height="3.15" fill="#ccccfb"/><rect x="375.1" y="432.3" width="3.2" height="3.15" fill="#ccccf6"/><rect x="378.2" y="432.3" width="3.2" height="3.15" fill="#d0ccff"/><rect x="381.3" y="432.3" width="3.2" height="3.15" fill="#d4ccff"/><rect x="384.4" y="432.3" width="3.2" height="3.15" fill="#d9ccff"/><rect x="387.5" y="432.3" width="3.2" height="3.15" fill="#deccff"/><rect x="390.6" y="432.3" width="3.2" height="3.15" fill="#e4ccff"/><rect x="393.7" y="432.3" width="3.2" height="3.15" fill="#e8cdfe"/><rect x="396.8" y="432.3" width="3.2" height="3.15" fill="#edd0fb"/><rect x="399.9" y="432.3" width="3.2" height="3.15" fill="#f1d2f9"/><rect x="403.0" y="432.3" width="3.2" height="3.15" fill="#f7d6f5"/><rect x="406.1" y="432.3" width="3.2" height="3.15" fill="#fedaf1"/><rect x="409.2" y="432.3" width="3.2" height="3.15" fill="#ffdcef"/><rect x="412.3" y="432.3" width="15.6" height="3.15" fill="#ffdeed"/><rect x="427.8" y="432.3" width="3.2" height="3.15" fill="#ffe8e3"/><rect x="322.4" y="435.4" width="3.2" height="3.15" fill="#ffe8e3"/><rect x="325.5" y="435.4" width="15.6" height="3.15" fill="#ffdeed"/><rect x="341.0" y="435.4" width="3.2" height="3.15" fill="#ffddee"/><rect x="344.1" y="435.4" width="3.2" height="3.15" fill="#ffdcef"/><rect x="347.2" y="435.4" width="3.2" height="3.15" fill="#f7d6f5"/><rect x="350.3" y="435.4" width="3.2" height="3.15" fill="#f0d2f9"/><rect x="353.4" y="435.4" width="3.2" height="3.15" fill="#eacefd"/><rect x="356.5" y="435.4" width="3.2" height="3.15" fill="#e6ccff"/><rect x="359.6" y="435.4" width="3.2" height="3.15" fill="#deccff"/><rect x="362.7" y="435.4" width="3.2" height="3.15" fill="#d7ccff"/><rect x="365.8" y="435.4" width="3.2" height="3.15" fill="#d4ccff"/><rect x="368.9" y="435.4" width="3.2" height="3.15" fill="#d3ccff"/><rect x="372.0" y="435.4" width="3.2" height="3.15" fill="#ccccfe"/><rect x="375.1" y="435.4" width="3.2" height="3.15" fill="#ccccfa"/><rect x="378.2" y="435.4" width="3.2" height="3.15" fill="#d3ccff"/><rect x="381.3" y="435.4" width="3.2" height="3.15" fill="#d6ccff"/><rect x="384.4" y="435.4" width="3.2" height="3.15" fill="#daccff"/><rect x="387.5" y="435.4" width="3.2" height="3.15" fill="#e1ccff"/><rect x="390.6" y="435.4" width="3.2" height="3.15" fill="#e7ccff"/><rect x="393.7" y="435.4" width="3.2" height="3.15" fill="#ebcffc"/><rect x="396.8" y="435.4" width="3.2" height="3.15" fill="#f0d2f9"/><rect x="399.9" y="435.4" width="3.2" height="3.15" fill="#f5d5f6"/><rect x="403.0" y="435.4" width="3.2" height="3.15" fill="#fbd9f2"/><rect x="406.1" y="435.4" width="3.2" height="3.15" fill="#ffdcef"/><rect x="409.2" y="435.4" width="9.4" height="3.15" fill="#ffddee"/><rect x="418.5" y="435.4" width="6.3" height="3.15" fill="#ffdeed"/><rect x="424.7" y="435.4" width="3.2" height="3.15" fill="#ffefdc"/><rect x="322.4" y="438.5" width="3.2" height="3.15" fill="#ffe8e3"/><rect x="325.5" y="438.5" width="18.7" height="3.15" fill="#ffdeed"/><rect x="344.1" y="438.5" width="6.3" height="3.15" fill="#ffdcef"/><rect x="350.3" y="438.5" width="3.2" height="3.15" fill="#f7d6f5"/><rect x="353.4" y="438.5" width="3.2" height="3.15" fill="#f0d2f9"/><rect x="356.5" y="438.5" width="3.2" height="3.15" fill="#e8cdfe"/><rect x="359.6" y="438.5" width="3.2" height="3.15" fill="#e3ccff"/><rect x="362.7" y="438.5" width="3.2" height="3.15" fill="#dcccff"/><rect x="365.8" y="438.5" width="3.2" height="3.15" fill="#d7ccff"/><rect x="368.9" y="438.5" width="3.2" height="3.15" fill="#d4ccff"/><rect x="372.0" y="438.5" width="3.2" height="3.15" fill="#cfccff"/><rect x="375.1" y="438.5" width="3.2" height="3.15" fill="#ccccfd"/><rect x="378.2" y="438.5" width="3.2" height="3.15" fill="#d4ccff"/><rect x="381.3" y="438.5" width="3.2" height="3.15" fill="#d9ccff"/><rect x="384.4" y="438.5" width="3.2" height="3.15" fill="#deccff"/><rect x="387.5" y="438.5" width="3.2" height="3.15" fill="#e6ccff"/><rect x="390.6" y="438.5" width="3.2" height="3.15" fill="#eacefd"/><rect x="393.7" y="438.5" width="3.2" height="3.15" fill="#eed0fb"/><rect x="396.8" y="438.5" width="3.2" height="3.15" fill="#f4d4f7"/><rect x="399.9" y="438.5" width="3.2" height="3.15" fill="#fbd9f2"/><rect x="403.0" y="438.5" width="12.5" height="3.15" fill="#ffdcef"/><rect x="415.4" y="438.5" width="6.3" height="3.15" fill="#ffddee"/><rect x="421.6" y="438.5" width="3.2" height="3.15" fill="#ffdeed"/><rect x="424.7" y="438.5" width="3.2" height="3.15" fill="#ffe8e3"/><rect x="325.5" y="441.6" width="3.2" height="3.15" fill="#ffe8e3"/><rect x="328.6" y="441.6" width="18.7" height="3.15" fill="#ffdeed"/><rect x="347.2" y="441.6" width="3.2" height="3.15" fill="#ffddee"/><rect x="350.3" y="441.6" width="3.2" height="3.15" fill="#ffdcef"/><rect x="353.4" y="441.6" width="3.2" height="3.15" fill="#f8d7f4"/><rect x="356.5" y="441.6" width="3.2" height="3.15" fill="#f0d2f9"/><rect x="359.6" y="441.6" width="3.2" height="3.15" fill="#e8cdfe"/><rect x="362.7" y="441.6" width="3.2" height="3.15" fill="#e3ccff"/><rect x="365.8" y="441.6" width="3.2" height="3.15" fill="#daccff"/><rect x="368.9" y="441.6" width="3.2" height="3.15" fill="#d9ccff"/><rect x="372.0" y="441.6" width="3.2" height="3.15" fill="#d2ccff"/><rect x="375.1" y="441.6" width="3.2" height="3.15" fill="#cdccff"/><rect x="378.2" y="441.6" width="3.2" height="3.15" fill="#d9ccff"/><rect x="381.3" y="441.6" width="3.2" height="3.15" fill="#deccff"/><rect x="384.4" y="441.6" width="3.2" height="3.15" fill="#e4ccff"/><rect x="387.5" y="441.6" width="3.2" height="3.15" fill="#eacefd"/><rect x="390.6" y="441.6" width="3.2" height="3.15" fill="#f0d2f9"/><rect x="393.7" y="441.6" width="3.2" height="3.15" fill="#f5d5f6"/><rect x="396.8" y="441.6" width="3.2" height="3.15" fill="#fcdaf1"/><rect x="399.9" y="441.6" width="6.3" height="3.15" fill="#ffdcef"/><rect x="406.1" y="441.6" width="6.3" height="3.15" fill="#fedaf1"/><rect x="412.3" y="441.6" width="6.3" height="3.15" fill="#ffdcef"/><rect x="418.5" y="441.6" width="3.2" height="3.15" fill="#ffddee"/><rect x="421.6" y="441.6" width="3.2" height="3.15" fill="#ffe8e3"/><rect x="325.5" y="444.7" width="3.2" height="3.15" fill="#ffefdc"/><rect x="328.6" y="444.7" width="21.8" height="3.15" fill="#ffdeed"/><rect x="350.3" y="444.7" width="3.2" height="3.15" fill="#ffddee"/><rect x="353.4" y="444.7" width="6.3" height="3.15" fill="#ffdcef"/><rect x="359.6" y="444.7" width="3.2" height="3.15" fill="#f4d4f7"/><rect x="362.7" y="444.7" width="3.2" height="3.15" fill="#ebcffc"/><rect x="365.8" y="444.7" width="3.2" height="3.15" fill="#e6ccff"/><rect x="368.9" y="444.7" width="3.2" height="3.15" fill="#deccff"/><rect x="372.0" y="444.7" width="3.2" height="3.15" fill="#d6ccff"/><rect x="375.1" y="444.7" width="3.2" height="3.15" fill="#d3ccff"/><rect x="378.2" y="444.7" width="3.2" height="3.15" fill="#e1ccff"/><rect x="381.3" y="444.7" width="3.2" height="3.15" fill="#e7ccff"/><rect x="384.4" y="444.7" width="3.2" height="3.15" fill="#edd0fb"/><rect x="387.5" y="444.7" width="3.2" height="3.15" fill="#f2d3f8"/><rect x="390.6" y="444.7" width="3.2" height="3.15" fill="#fad8f3"/><rect x="393.7" y="444.7" width="9.4" height="3.15" fill="#ffdcef"/><rect x="403.0" y="444.7" width="3.2" height="3.15" fill="#fedaf1"/><rect x="406.1" y="444.7" width="6.3" height="3.15" fill="#fcdaf1"/><rect x="412.3" y="444.7" width="3.2" height="3.15" fill="#fedaf1"/><rect x="415.4" y="444.7" width="3.2" height="3.15" fill="#ffdcef"/><rect x="418.5" y="444.7" width="3.2" height="3.15" fill="#ffddee"/><rect x="421.6" y="444.7" width="3.2" height="3.15" fill="#ffe8e3"/><rect x="322.4" y="447.8" width="3.2" height="3.15" fill="#ffe8e3"/><rect x="325.5" y="447.8" width="31.1" height="3.15" fill="#ffdeed"/><rect x="356.5" y="447.8" width="3.2" height="3.15" fill="#ffddee"/><rect x="359.6" y="447.8" width="6.3" height="3.15" fill="#ffdcef"/><rect x="365.8" y="447.8" width="3.2" height="3.15" fill="#fcdaf1"/><rect x="368.9" y="447.8" width="3.2" height="3.15" fill="#f2d3f8"/><rect x="372.0" y="447.8" width="3.2" height="3.15" fill="#eed0fb"/><rect x="375.1" y="447.8" width="3.2" height="3.15" fill="#edd0fb"/><rect x="378.2" y="447.8" width="3.2" height="3.15" fill="#f2d3f8"/><rect x="381.3" y="447.8" width="3.2" height="3.15" fill="#f8d7f4"/><rect x="384.4" y="447.8" width="9.4" height="3.15" fill="#ffdcef"/><rect x="393.7" y="447.8" width="6.3" height="3.15" fill="#ffddee"/><rect x="399.9" y="447.8" width="3.2" height="3.15" fill="#ffdcef"/><rect x="403.0" y="447.8" width="3.2" height="3.15" fill="#fedaf1"/><rect x="406.1" y="447.8" width="6.3" height="3.15" fill="#fcdaf1"/><rect x="412.3" y="447.8" width="3.2" height="3.15" fill="#fedaf1"/><rect x="415.4" y="447.8" width="3.2" height="3.15" fill="#ffdcef"/><rect x="418.5" y="447.8" width="6.3" height="3.15" fill="#ffddee"/><rect x="424.7" y="447.8" width="3.2" height="3.15" fill="#ffe8e3"/><rect x="322.4" y="450.9" width="3.2" height="3.15" fill="#ffe8e3"/><rect x="325.5" y="450.9" width="37.3" height="3.15" fill="#ffdeed"/><rect x="362.7" y="450.9" width="6.3" height="3.15" fill="#ffddee"/><rect x="368.9" y="450.9" width="12.5" height="3.15" fill="#ffdcef"/><rect x="381.3" y="450.9" width="6.3" height="3.15" fill="#ffddee"/><rect x="387.5" y="450.9" width="9.4" height="3.15" fill="#ffdeed"/><rect x="396.8" y="450.9" width="3.2" height="3.15" fill="#ffddee"/><rect x="399.9" y="450.9" width="6.3" height="3.15" fill="#ffdcef"/><rect x="406.1" y="450.9" width="3.2" height="3.15" fill="#fedaf1"/><rect x="409.2" y="450.9" width="9.4" height="3.15" fill="#ffdcef"/><rect x="418.5" y="450.9" width="3.2" height="3.15" fill="#ffddee"/><rect x="421.6" y="450.9" width="3.2" height="3.15" fill="#ffdeed"/><rect x="424.7" y="450.9" width="3.2" height="3.15" fill="#ffefdc"/><rect x="322.4" y="454.0" width="3.2" height="3.15" fill="#ffe8e3"/><rect x="325.5" y="454.0" width="71.4" height="3.15" fill="#ffdeed"/><rect x="396.8" y="454.0" width="6.3" height="3.15" fill="#ffddee"/><rect x="403.0" y="454.0" width="12.5" height="3.15" fill="#ffdcef"/><rect x="415.4" y="454.0" width="6.3" height="3.15" fill="#ffddee"/><rect x="421.6" y="454.0" width="6.3" height="3.15" fill="#ffdeed"/><rect x="427.8" y="454.0" width="3.2" height="3.15" fill="#ffefdc"/><rect x="319.3" y="457.1" width="3.2" height="3.15" fill="#ffe8e3"/><rect x="322.4" y="457.1" width="77.6" height="3.15" fill="#ffdeed"/><rect x="399.9" y="457.1" width="15.6" height="3.15" fill="#ffddee"/><rect x="415.4" y="457.1" width="12.5" height="3.15" fill="#ffdeed"/><rect x="427.8" y="457.1" width="3.2" height="3.15" fill="#ffe8e3"/><rect x="319.3" y="460.2" width="3.2" height="3.15" fill="#ffe8e3"/><rect x="322.4" y="460.2" width="105.5" height="3.15" fill="#ffdeed"/><rect x="427.8" y="460.2" width="3.2" height="3.15" fill="#ffe8e3"/><rect x="319.3" y="463.3" width="3.2" height="3.15" fill="#ffe8e3"/><rect x="322.4" y="463.3" width="105.5" height="3.15" fill="#ffdeed"/><rect x="427.8" y="463.3" width="3.2" height="3.15" fill="#ffe8e3"/><rect x="319.3" y="466.4" width="3.2" height="3.15" fill="#ffe8e3"/><rect x="322.4" y="466.4" width="105.5" height="3.15" fill="#ffdeed"/><rect x="427.8" y="466.4" width="3.2" height="3.15" fill="#ffe8e3"/><rect x="319.3" y="469.5" width="3.2" height="3.15" fill="#ffefdc"/><rect x="322.4" y="469.5" width="105.5" height="3.15" fill="#ffdeed"/><rect x="427.8" y="469.5" width="3.2" height="3.15" fill="#ffefdc"/><rect x="319.3" y="472.6" width="3.2" height="3.15" fill="#ffe8e3"/><rect x="322.4" y="472.6" width="49.7" height="3.15" fill="#ffdeed"/><rect x="372.0" y="472.6" width="9.4" height="3.15" fill="#ffddee"/><rect x="381.3" y="472.6" width="46.6" height="3.15" fill="#ffdeed"/><rect x="427.8" y="472.6" width="3.2" height="3.15" fill="#ffe8e3"/><rect x="319.3" y="475.7" width="3.2" height="3.15" fill="#ffe8e3"/><rect x="322.4" y="475.7" width="43.5" height="3.15" fill="#ffdeed"/><rect x="365.8" y="475.7" width="18.7" height="3.15" fill="#ffddee"/><rect x="384.4" y="475.7" width="43.5" height="3.15" fill="#ffdeed"/><rect x="427.8" y="475.7" width="3.2" height="3.15" fill="#ffe8e3"/><rect x="319.3" y="478.8" width="3.2" height="3.15" fill="#ffe8e3"/><rect x="322.4" y="478.8" width="43.5" height="3.15" fill="#ffdeed"/><rect x="365.8" y="478.8" width="6.3" height="3.15" fill="#ffddee"/><rect x="372.0" y="478.8" width="9.4" height="3.15" fill="#ffdcef"/><rect x="381.3" y="478.8" width="6.3" height="3.15" fill="#ffddee"/><rect x="387.5" y="478.8" width="40.4" height="3.15" fill="#ffdeed"/><rect x="427.8" y="478.8" width="3.2" height="3.15" fill="#ffe8e3"/><rect x="319.3" y="481.9" width="3.2" height="3.15" fill="#ffe8e3"/><rect x="322.4" y="481.9" width="40.4" height="3.15" fill="#ffdeed"/><rect x="362.7" y="481.9" width="6.3" height="3.15" fill="#ffddee"/><rect x="368.9" y="481.9" width="3.2" height="3.15" fill="#ffdcef"/><rect x="372.0" y="481.9" width="3.2" height="3.15" fill="#fcdaf1"/><rect x="375.1" y="481.9" width="3.2" height="3.15" fill="#f8d7f4"/><rect x="378.2" y="481.9" width="3.2" height="3.15" fill="#fedaf1"/><rect x="381.3" y="481.9" width="3.2" height="3.15" fill="#ffdcef"/><rect x="384.4" y="481.9" width="3.2" height="3.15" fill="#ffddee"/><rect x="387.5" y="481.9" width="40.4" height="3.15" fill="#ffdeed"/><rect x="427.8" y="481.9" width="3.2" height="3.15" fill="#ffe8e3"/><rect x="319.3" y="485.0" width="3.2" height="3.15" fill="#ffefdc"/><rect x="322.4" y="485.0" width="40.4" height="3.15" fill="#ffdeed"/><rect x="362.7" y="485.0" width="6.3" height="3.15" fill="#ffddee"/><rect x="368.9" y="485.0" width="3.2" height="3.15" fill="#ffdcef"/><rect x="372.0" y="485.0" width="3.2" height="3.15" fill="#f4d4f7"/><rect x="375.1" y="485.0" width="3.2" height="3.15" fill="#e8cdfe"/><rect x="378.2" y="485.0" width="3.2" height="3.15" fill="#fbd9f2"/><rect x="381.3" y="485.0" width="3.2" height="3.15" fill="#ffdcef"/><rect x="384.4" y="485.0" width="6.3" height="3.15" fill="#ffddee"/><rect x="390.6" y="485.0" width="37.3" height="3.15" fill="#ffdeed"/><rect x="427.8" y="485.0" width="3.2" height="3.15" fill="#ffefdc"/><rect x="319.3" y="488.1" width="3.2" height="3.15" fill="#ffe8e3"/><rect x="322.4" y="488.1" width="40.4" height="3.15" fill="#ffdeed"/><rect x="362.7" y="488.1" width="6.3" height="3.15" fill="#ffddee"/><rect x="368.9" y="488.1" width="3.2" height="3.15" fill="#ffdcef"/><rect x="372.0" y="488.1" width="3.2" height="3.15" fill="#fcdaf1"/><rect x="375.1" y="488.1" width="3.2" height="3.15" fill="#f8d7f4"/><rect x="378.2" y="488.1" width="3.2" height="3.15" fill="#fedaf1"/><rect x="381.3" y="488.1" width="3.2" height="3.15" fill="#ffdcef"/><rect x="384.4" y="488.1" width="3.2" height="3.15" fill="#ffddee"/><rect x="387.5" y="488.1" width="40.4" height="3.15" fill="#ffdeed"/><rect x="427.8" y="488.1" width="3.2" height="3.15" fill="#ffe8e3"/><rect x="322.4" y="491.2" width="3.2" height="3.15" fill="#ffe8e3"/><rect x="325.5" y="491.2" width="40.4" height="3.15" fill="#ffdeed"/><rect x="365.8" y="491.2" width="6.3" height="3.15" fill="#ffddee"/><rect x="372.0" y="491.2" width="9.4" height="3.15" fill="#ffdcef"/><rect x="381.3" y="491.2" width="6.3" height="3.15" fill="#ffddee"/><rect x="387.5" y="491.2" width="37.3" height="3.15" fill="#ffdeed"/><rect x="424.7" y="491.2" width="3.2" height="3.15" fill="#ffe8e3"/><rect x="322.4" y="494.3" width="3.2" height="3.15" fill="#ffe8e3"/><rect x="325.5" y="494.3" width="40.4" height="3.15" fill="#ffdeed"/><rect x="365.8" y="494.3" width="18.7" height="3.15" fill="#ffddee"/><rect x="384.4" y="494.3" width="40.4" height="3.15" fill="#ffdeed"/><rect x="424.7" y="494.3" width="3.2" height="3.15" fill="#ffe8e3"/><rect x="322.4" y="497.4" width="3.2" height="3.15" fill="#ffe8e3"/><rect x="325.5" y="497.4" width="46.6" height="3.15" fill="#ffdeed"/><rect x="372.0" y="497.4" width="9.4" height="3.15" fill="#ffddee"/><rect x="381.3" y="497.4" width="43.5" height="3.15" fill="#ffdeed"/><rect x="424.7" y="497.4" width="3.2" height="3.15" fill="#ffefdc"/><rect x="325.5" y="500.5" width="3.2" height="3.15" fill="#ffe8e3"/><rect x="328.6" y="500.5" width="93.1" height="3.15" fill="#ffdeed"/><rect x="421.6" y="500.5" width="3.2" height="3.15" fill="#ffe8e3"/><rect x="325.5" y="503.6" width="3.2" height="3.15" fill="#ffe8e3"/><rect x="328.6" y="503.6" width="93.1" height="3.15" fill="#ffdeed"/><rect x="421.6" y="503.6" width="3.2" height="3.15" fill="#ffe8e3"/><rect x="328.6" y="506.7" width="3.2" height="3.15" fill="#ffe8e3"/><rect x="331.7" y="506.7" width="86.9" height="3.15" fill="#ffdeed"/><rect x="418.5" y="506.7" width="3.2" height="3.15" fill="#ffefdc"/><rect x="331.7" y="509.8" width="3.2" height="3.15" fill="#ffe8e3"/><rect x="334.8" y="509.8" width="80.7" height="3.15" fill="#ffdeed"/><rect x="415.4" y="509.8" width="3.2" height="3.15" fill="#ffe8e3"/><rect x="334.8" y="512.9" width="3.2" height="3.15" fill="#ffe8e3"/><rect x="337.9" y="512.9" width="77.6" height="3.15" fill="#ffdeed"/><rect x="415.4" y="512.9" width="3.2" height="3.15" fill="#ffe8e3"/><rect x="334.8" y="516.0" width="3.2" height="3.15" fill="#ffefdc"/><rect x="337.9" y="516.0" width="3.2" height="3.15" fill="#ffe8e3"/><rect x="341.0" y="516.0" width="71.4" height="3.15" fill="#ffdeed"/><rect x="412.3" y="516.0" width="3.2" height="3.15" fill="#ffefdc"/><rect x="341.0" y="519.1" width="3.2" height="3.15" fill="#ffe8e3"/><rect x="344.1" y="519.1" width="62.1" height="3.15" fill="#ffdeed"/><rect x="406.1" y="519.1" width="6.3" height="3.15" fill="#ffe8e3"/><rect x="344.1" y="522.2" width="3.2" height="3.15" fill="#ffe8e3"/><rect x="347.2" y="522.2" width="55.9" height="3.15" fill="#ffdeed"/><rect x="403.0" y="522.2" width="3.2" height="3.15" fill="#ffefdc"/><rect x="347.2" y="525.3" width="6.3" height="3.15" fill="#ffe8e3"/><rect x="353.4" y="525.3" width="43.5" height="3.15" fill="#ffdeed"/><rect x="396.8" y="525.3" width="6.3" height="3.15" fill="#ffe8e3"/><rect x="353.4" y="528.4" width="9.4" height="3.15" fill="#ffe8e3"/><rect x="362.7" y="528.4" width="24.9" height="3.15" fill="#ffdeed"/><rect x="387.5" y="528.4" width="6.3" height="3.15" fill="#ffe8e3"/><rect x="393.7" y="528.4" width="3.2" height="3.15" fill="#ffefdc"/><rect x="362.7" y="531.5" width="3.2" height="3.15" fill="#ffe8e3"/><rect x="365.8" y="531.5" width="3.2" height="3.15" fill="#ffefdc"/><rect x="368.9" y="531.5" width="12.5" height="3.15" fill="#ffe8e3"/><rect x="381.3" y="531.5" width="3.2" height="3.15" fill="#ffefdc"/><rect x="384.4" y="531.5" width="3.2" height="3.15" fill="#ffe8e3"/></g></g><path d="M356.8 366.6L368.7 364.2M372.1 364.2L384.7 365.4M388.2 363.2L398.8 366.1M326.8 384.7L337.2 378.2M341.4 383.7L352.8 379.3M372.1 380.5L384.7 381.5M404.3 377.3L415.1 383.0M327.1 401.2L336.2 394.5M341.9 399.7L352.8 394.1M405.0 392.1L414.7 399.0M421.1 391.1L427.5 398.0M328.1 417.8L336.0 408.9M405.2 406.4L414.2 414.8M422.1 405.6L429.5 415.5M329.2 434.8L335.7 423.2M343.5 433.5L351.8 424.2M407.0 421.0L413.9 431.9M423.3 420.2L428.8 431.9M333.5 438.2L332.3 449.9M349.6 438.5L347.4 450.8M393.1 436.0L396.6 447.6M409.9 435.3L411.5 447.8M331.3 451.8L334.5 463.5M359.0 453.3L367.7 461.7M373.1 462.5L383.9 456.2M392.1 465.7L397.3 454.8M409.2 465.9L412.4 454.3M425.3 466.2L427.5 454.1M329.1 467.9L335.7 478.5M343.2 469.2L352.1 477.7M357.0 471.4L368.4 476.2M372.3 476.0L384.6 473.0M389.2 479.5L399.1 471.1M406.2 480.4L413.9 470.1M423.3 480.9L428.8 470.1M327.3 484.4L336.7 493.6M342.2 485.9L352.8 492.6M357.0 488.1L368.4 490.8M388.2 493.6L399.8 487.4M405.0 494.8L414.9 486.6M421.8 495.5L429.8 486.1M327.1 501.2L337.0 508.4M341.7 502.2L353.1 507.7M372.1 506.4L384.7 505.0M388.2 508.4L399.8 503.5M404.3 509.7L414.9 503.2M341.2 518.4L353.1 522.6M357.0 520.1L368.9 521.6M372.1 521.6L384.7 520.3M388.2 523.6L399.8 519.4M404.3 524.1L415.1 519.1" fill="none" stroke="#1a1a1a" stroke-width="0.8"/><path d="M360.0 362.4L357.5 363.9M329.8 384.7L326.8 389.2M326.3 391.6L324.1 395.2M322.4 401.4L320.6 405.4M320.4 426.7L323.1 432.6M321.6 463.7L320.6 467.2M320.6 488.1L323.1 494.8M329.8 509.7L335.2 516.9M336.5 518.1L344.7 524.1M363.2 532.0L367.9 533.5M396.1 530.0L400.8 527.5M402.3 526.8L408.0 524.3M431.7 476.5L430.7 482.4M427.3 456.8L429.5 461.2M431.0 410.3L431.0 416.8M427.2 393.2L430.0 399.5M423.6 388.2L426.8 392.1M405.2 368.6L414.7 374.8L418.1 379.3L423.6 386.7M399.1 365.1L403.8 367.9" fill="none" stroke="#ffbc43" stroke-width="2.3"/><g fill="#ffbc43"><rect x="350.9" y="364.9" width="1.9" height="1.9"/><rect x="344.4" y="368.2" width="1.9" height="1.9"/><rect x="326.4" y="448.4" width="1.9" height="1.9"/><rect x="323.4" y="454.6" width="1.9" height="1.9"/><rect x="325.9" y="504.4" width="1.9" height="1.9"/><rect x="354.1" y="529.0" width="1.9" height="1.9"/><rect x="384.8" y="532.2" width="1.9" height="1.9"/><rect x="421.9" y="507.8" width="1.9" height="1.9"/><rect x="427.9" y="494.9" width="1.9" height="1.9"/><rect x="425.4" y="451.4" width="1.9" height="1.9"/><rect x="428.1" y="432.7" width="1.9" height="1.9"/><rect x="391.4" y="360.9" width="1.9" height="1.9"/></g><path d="M335.2 440.4C335.2 440.1 334.9 438.8 335.5 438.5C336.1 438.2 338.7 438.4 340.0 438.3C341.3 438.2 344.7 438.2 345.6 438.0C346.5 437.8 346.7 437.4 346.9 437.0C347.1 436.6 347.1 435.7 346.9 435.0C346.7 434.3 346.3 433.3 345.6 432.1C344.9 430.9 342.7 427.5 341.7 425.7C340.7 423.9 338.8 420.2 338.2 418.3C337.6 416.4 337.1 413.1 337.0 411.3C336.9 409.5 337.1 406.4 337.2 404.9C337.3 403.4 337.6 401.4 338.0 400.0C338.4 398.6 339.4 396.0 340.0 394.6C340.6 393.2 341.6 391.0 342.2 389.7C342.8 388.4 343.7 386.5 344.7 385.2C345.7 383.9 348.0 381.5 349.6 380.2C351.2 378.9 355.0 376.4 357.0 375.3C359.0 374.2 362.3 372.6 364.5 371.8C366.7 371.0 371.3 369.9 373.4 369.6C375.5 369.3 378.4 369.7 380.0 369.8C381.6 369.9 383.9 370.1 385.2 370.4C386.5 370.7 388.3 371.4 389.6 371.9C390.9 372.4 393.4 373.5 394.9 374.4C396.4 375.3 399.1 377.1 400.8 378.3C402.5 379.5 406.6 382.4 407.5 383.5C408.4 384.6 406.8 385.9 407.2 386.7C407.6 387.5 409.5 388.6 410.2 389.7C410.9 390.8 411.8 393.4 412.3 394.8C412.8 396.2 413.4 398.7 413.7 400.0C414.0 401.3 414.7 403.6 414.9 404.9C415.1 406.2 415.1 408.3 414.9 409.9C414.7 411.5 414.1 415.1 413.7 416.8C413.3 418.5 412.4 421.0 411.7 422.7C411.0 424.4 409.1 427.6 408.2 429.2C407.3 430.8 405.7 434.0 405.2 435.0C404.7 436.0 403.7 436.7 404.3 437.0C404.9 437.3 408.3 437.0 409.7 437.2C411.1 437.4 413.7 437.8 414.7 438.5C415.7 439.2 416.7 441.2 417.1 442.4C417.5 443.6 417.5 446.1 417.4 447.4C417.3 448.7 417.0 450.7 416.6 451.8C416.2 452.9 415.6 455.3 414.7 455.8C413.8 456.3 411.0 455.7 409.7 455.8C408.4 455.9 406.1 456.2 404.8 456.5C403.5 456.8 401.1 457.7 399.8 458.3C398.5 458.9 396.4 460.4 395.3 460.7C394.2 461.0 392.8 460.3 391.9 460.7C391.0 461.1 389.3 463.1 388.4 463.7C387.5 464.3 386.1 464.9 385.0 465.2C383.9 465.5 381.4 465.8 380.0 465.9C378.6 466.0 375.8 466.0 374.4 465.9C373.0 465.8 370.7 465.6 369.4 465.4C368.1 465.2 365.9 464.7 364.5 464.2C363.1 463.7 359.7 462.3 359.0 462.0M378.3 449.4C378.5 449.2 379.0 448.3 380.0 448.1C381.0 447.9 384.7 448.2 385.9 447.9C387.1 447.6 388.0 446.0 388.9 445.6C389.8 445.2 391.5 445.1 392.4 444.7C393.3 444.3 394.3 443.0 395.3 442.7C396.3 442.4 399.1 442.1 399.8 442.4C400.5 442.7 400.6 444.0 400.8 444.9C401.0 445.8 401.6 448.0 401.5 448.9C401.4 449.8 400.4 451.1 399.8 451.8C399.2 452.5 397.8 453.7 396.8 454.3C395.8 454.9 393.7 455.6 392.4 456.0C391.1 456.4 388.4 457.1 387.4 457.3C386.4 457.5 386.1 457.2 385.0 457.3C383.9 457.4 380.7 458.2 379.3 458.3C377.9 458.4 375.7 458.3 374.4 458.3C373.1 458.3 370.7 458.6 369.4 458.5C368.1 458.4 365.8 457.9 364.5 457.5C363.2 457.1 360.7 456.3 359.5 455.8C358.3 455.3 356.0 454.1 355.5 453.8M368.4 486.4L369.9 482.3L373.2 478.9L377.3 478.7L383.3 483.0L384.0 486.4L382.5 490.1L378.8 493.4L375.1 494.3L371.0 492.3L368.8 489.3Z" fill="none" stroke="#ff4eb1" stroke-width="2.2" stroke-linejoin="round"/><path d="M382.0 404.9C381.2 404.6 377.5 402.7 375.8 402.7C374.1 402.7 370.9 404.0 369.4 404.9C367.9 405.8 365.6 407.9 364.5 409.4C363.4 410.9 361.7 414.0 361.0 415.8C360.3 417.6 359.5 421.0 359.3 422.7C359.1 424.4 359.1 427.1 359.3 428.7C359.5 430.3 360.1 433.8 360.5 435.0C360.9 436.2 361.8 437.1 362.5 438.0C363.2 438.9 364.9 441.0 366.0 441.9C367.1 442.8 369.3 444.3 370.4 444.9C371.5 445.5 373.3 446.1 374.4 446.3C375.5 446.5 377.3 446.6 378.3 446.5C379.3 446.4 380.9 445.6 381.8 445.2C382.7 444.8 384.1 444.0 385.0 443.4C385.9 442.8 388.3 440.9 388.8 440.5" fill="none" stroke="#5500ff" stroke-width="2.1"/><g font-size="10.8"><text transform="translate(343.5,448.7) rotate(-7.1)" fill="#ff4eb1">3.000</text><text transform="translate(328.1,448.5) rotate(41.6)" fill="#ff4eb1">3.000</text><text transform="translate(388.45,407.1) rotate(80.2)" fill="#5500ff">4.500</text></g><circle cx="376.6" cy="445.4" r="1.3" fill="#000080"/>
<rect x="68.5" y="138.5" width="617.0" height="617.0" fill="none" stroke="#000" stroke-width="1.1"/>
<path d="M144.5 755.5v4.86M68.5 679.5h-4.86M222.5 755.5v4.86M68.5 601.5h-4.86M299.5 755.5v4.86M68.5 524.5h-4.86M377.5 755.5v4.86M68.5 446.5h-4.86M454.5 755.5v4.86M68.5 369.5h-4.86M532.5 755.5v4.86M68.5 291.5h-4.86M609.5 755.5v4.86M68.5 214.5h-4.86" stroke="#000" stroke-width="1.1" fill="none"/>
<text x="144.50" y="775.80" font-size="13.889" text-anchor="middle" textLength="28.1">−75</text>
<text x="58.30" y="684.00" font-size="13.889" text-anchor="end" textLength="28.1">−75</text>
<text x="222.50" y="775.80" font-size="13.889" text-anchor="middle" textLength="28.1">−50</text>
<text x="58.30" y="607.00" font-size="13.889" text-anchor="end" textLength="28.1">−50</text>
<text x="299.50" y="775.80" font-size="13.889" text-anchor="middle" textLength="28.1">−25</text>
<text x="58.30" y="529.00" font-size="13.889" text-anchor="end" textLength="28.1">−25</text>
<text x="377.50" y="775.80" font-size="13.889" text-anchor="middle">0</text>
<text x="59.90" y="452.00" font-size="13.889" text-anchor="end">0</text>
<text x="454.50" y="775.80" font-size="13.889" text-anchor="middle">25</text>
<text x="58.30" y="374.00" font-size="13.889" text-anchor="end">25</text>
<text x="531.50" y="775.80" font-size="13.889" text-anchor="middle">50</text>
<text x="58.30" y="297.00" font-size="13.889" text-anchor="end">50</text>
<text x="608.70" y="775.80" font-size="13.889" text-anchor="middle">75</text>
<text x="58.30" y="219.00" font-size="13.889" text-anchor="end">75</text>
<text x="377.10" y="794.60" font-size="13.889" text-anchor="middle" textLength="98.6">Offset (pixels)</text>
<text transform="translate(19.9,446.8) rotate(-90)" font-size="13.889" text-anchor="middle" textLength="98.4">Offset (pixels)</text>
<text x="376.90" y="130.00" font-size="16.667" text-anchor="middle" textLength="199.8">Without Faraday effects</text>
<path d="M103.2 720.4h5.7" stroke="#000" stroke-width="1.6" fill="none"/>
<text x="82.00" y="738.00" font-size="13.889" text-anchor="start">10 kpc</text>
<path d="M601.2 717.4h31.4" stroke="#000" stroke-width="1.5" fill="none"/>
<text x="563.3" y="736.4" font-size="13.889" text-anchor="start"><tspan font-style="italic">p</tspan><tspan font-style="italic" font-size="9.72" dy="1.5">max</tspan><tspan dy="-1.5">=0.507778</tspan></text>
<g id="cbar">
<g shape-rendering="crispEdges">
<rect x="690.5" y="753.09" width="12.0" height="2.91" fill="#ffffff"/>
<rect x="690.5" y="750.68" width="12.0" height="2.91" fill="#fffffc"/>
<rect x="690.5" y="748.27" width="12.0" height="2.91" fill="#fffffa"/>
<rect x="690.5" y="745.86" width="12.0" height="2.91" fill="#fffff8"/>
<rect x="690.5" y="743.45" width="12.0" height="2.91" fill="#fffff5"/>
<rect x="690.5" y="741.04" width="12.0" height="2.91" fill="#fffff2"/>
<rect x="690.5" y="738.63" width="12.0" height="2.91" fill="#fffff0"/>
<rect x="690.5" y="736.22" width="12.0" height="2.91" fill="#ffffed"/>
<rect x="690.5" y="733.81" width="12.0" height="2.91" fill="#ffffeb"/>
<rect x="690.5" y="731.40" width="12.0" height="2.91" fill="#ffffe8"/>
<rect x="690.5" y="728.99" width="12.0" height="2.91" fill="#ffffe6"/>
<rect x="690.5" y="726.58" width="12.0" height="2.91" fill="#ffffe4"/>
<rect x="690.5" y="724.17" width="12.0" height="2.91" fill="#ffffe1"/>
<rect x="690.5" y="721.76" width="12.0" height="2.91" fill="#ffffde"/>
<rect x="690.5" y="719.35" width="12.0" height="2.91" fill="#ffffdc"/>
<rect x="690.5" y="716.94" width="12.0" height="2.91" fill="#ffffd9"/>
<rect x="690.5" y="714.53" width="12.0" height="2.91" fill="#ffffd7"/>
<rect x="690.5" y="712.12" width="12.0" height="2.91" fill="#ffffd4"/>
<rect x="690.5" y="709.71" width="12.0" height="2.91" fill="#ffffd2"/>
<rect x="690.5" y="707.30" width="12.0" height="2.91" fill="#ffffd0"/>
<rect x="690.5" y="704.89" width="12.0" height="2.91" fill="#ffffcd"/>
<rect x="690.5" y="702.48" width="12.0" height="2.91" fill="#ffffcc"/>
<rect x="690.5" y="700.07" width="12.0" height="2.91" fill="#fffecd"/>
<rect x="690.5" y="697.66" width="12.0" height="2.91" fill="#fffecd"/>
<rect x="690.5" y="695.25" width="12.0" height="2.91" fill="#fffecd"/>
<rect x="690.5" y="692.84" width="12.0" height="2.91" fill="#fffdce"/>
<rect x="690.5" y="690.43" width="12.0" height="2.91" fill="#fffdce"/>
<rect x="690.5" y="688.02" width="12.0" height="2.91" fill="#fffccf"/>
<rect x="690.5" y="685.61" width="12.0" height="2.91" fill="#fffccf"/>
<rect x="690.5" y="683.20" width="12.0" height="2.91" fill="#fffccf"/>
<rect x="690.5" y="680.79" width="12.0" height="2.91" fill="#fffbd0"/>
<rect x="690.5" y="678.38" width="12.0" height="2.91" fill="#fffbd0"/>
<rect x="690.5" y="675.96" width="12.0" height="2.91" fill="#fffad1"/>
<rect x="690.5" y="673.55" width="12.0" height="2.91" fill="#fffad1"/>
<rect x="690.5" y="671.14" width="12.0" height="2.91" fill="#fffad1"/>
<rect x="690.5" y="668.73" width="12.0" height="2.91" fill="#fff9d2"/>
<rect x="690.5" y="666.32" width="12.0" height="2.91" fill="#fff9d2"/>
<rect x="690.5" y="663.91" width="12.0" height="2.91" fill="#fff8d3"/>
<rect x="690.5" y="661.50" width="12.0" height="2.91" fill="#fff8d3"/>
<rect x="690.5" y="659.09" width="12.0" height="2.91" fill="#fff8d3"/>
<rect x="690.5" y="656.68" width="12.0" height="2.91" fill="#fff7d4"/>
<rect x="690.5" y="654.27" width="12.0" height="2.91" fill="#fff7d4"/>
<rect x="690.5" y="651.86" width="12.0" height="2.91" fill="#fff6d5"/>
<rect x="690.5" y="649.45" width="12.0" height="2.91" fill="#fff6d5"/>
<rect x="690.5" y="647.04" width="12.0" height="2.91" fill="#fff6d5"/>
<rect x="690.5" y="644.63" width="12.0" height="2.91" fill="#fff5d6"/>
<rect x="690.5" y="642.22" width="12.0" height="2.91" fill="#fff5d6"/>
<rect x="690.5" y="639.81" width="12.0" height="2.91" fill="#fff4d7"/>
<rect x="690.5" y="637.40" width="12.0" height="2.91" fill="#fff4d7"/>
<rect x="690.5" y="634.99" width="12.0" height="2.91" fill="#fff4d7"/>
<rect x="690.5" y="632.58" width="12.0" height="2.91" fill="#fff3d8"/>
<rect x="690.5" y="630.17" width="12.0" height="2.91" fill="#fff3d8"/>
<rect x="690.5" y="627.76" width="12.0" height="2.91" fill="#fff2d9"/>
<rect x="690.5" y="625.35" width="12.0" height="2.91" fill="#fff2d9"/>
<rect x="690.5" y="622.94" width="12.0" height="2.91" fill="#fff2d9"/>
<rect x="690.5" y="620.53" width="12.0" height="2.91" fill="#fff1da"/>
<rect x="690.5" y="618.12" width="12.0" height="2.91" fill="#fff1da"/>
<rect x="690.5" y="615.71" width="12.0" height="2.91" fill="#fff0db"/>
<rect x="690.5" y="613.30" width="12.0" height="2.91" fill="#fff0db"/>
<rect x="690.5" y="610.89" width="12.0" height="2.91" fill="#fff0db"/>
<rect x="690.5" y="608.48" width="12.0" height="2.91" fill="#ffefdc"/>
<rect x="690.5" y="606.07" width="12.0" height="2.91" fill="#ffefdc"/>
<rect x="690.5" y="603.66" width="12.0" height="2.91" fill="#ffeedd"/>
<rect x="690.5" y="601.25" width="12.0" height="2.91" fill="#ffeedd"/>
<rect x="690.5" y="598.84" width="12.0" height="2.91" fill="#ffeedd"/>
<rect x="690.5" y="596.43" width="12.0" height="2.91" fill="#ffedde"/>
<rect x="690.5" y="594.02" width="12.0" height="2.91" fill="#ffedde"/>
<rect x="690.5" y="591.61" width="12.0" height="2.91" fill="#ffecdf"/>
<rect x="690.5" y="589.20" width="12.0" height="2.91" fill="#ffecdf"/>
<rect x="690.5" y="586.79" width="12.0" height="2.91" fill="#ffecdf"/>
<rect x="690.5" y="584.38" width="12.0" height="2.91" fill="#ffebe0"/>
<rect x="690.5" y="581.97" width="12.0" height="2.91" fill="#ffebe0"/>
<rect x="690.5" y="579.56" width="12.0" height="2.91" fill="#ffeae1"/>
<rect x="690.5" y="577.15" width="12.0" height="2.91" fill="#ffeae1"/>
<rect x="690.5" y="574.74" width="12.0" height="2.91" fill="#ffeae1"/>
<rect x="690.5" y="572.33" width="12.0" height="2.91" fill="#ffe9e2"/>
<rect x="690.5" y="569.92" width="12.0" height="2.91" fill="#ffe9e2"/>
<rect x="690.5" y="567.51" width="12.0" height="2.91" fill="#ffe8e3"/>
<rect x="690.5" y="565.10" width="12.0" height="2.91" fill="#ffe8e3"/>
<rect x="690.5" y="562.69" width="12.0" height="2.91" fill="#ffe8e3"/>
<rect x="690.5" y="560.28" width="12.0" height="2.91" fill="#ffe7e4"/>
<rect x="690.5" y="557.87" width="12.0" height="2.91" fill="#ffe7e4"/>
<rect x="690.5" y="555.46" width="12.0" height="2.91" fill="#ffe6e5"/>
<rect x="690.5" y="553.05" width="12.0" height="2.91" fill="#ffe6e5"/>
<rect x="690.5" y="550.64" width="12.0" height="2.91" fill="#ffe6e5"/>
<rect x="690.5" y="548.23" width="12.0" height="2.91" fill="#ffe5e6"/>
<rect x="690.5" y="545.82" width="12.0" height="2.91" fill="#ffe5e6"/>
<rect x="690.5" y="543.41" width="12.0" height="2.91" fill="#ffe4e7"/>
<rect x="690.5" y="541.00" width="12.0" height="2.91" fill="#ffe4e7"/>
<rect x="690.5" y="538.59" width="12.0" height="2.91" fill="#ffe4e7"/>
<rect x="690.5" y="536.18" width="12.0" height="2.91" fill="#ffe3e8"/>
<rect x="690.5" y="533.77" width="12.0" height="2.91" fill="#ffe3e8"/>
<rect x="690.5" y="531.36" width="12.0" height="2.91" fill="#ffe2e9"/>
<rect x="690.5" y="528.95" width="12.0" height="2.91" fill="#ffe2e9"/>
<rect x="690.5" y="526.54" width="12.0" height="2.91" fill="#ffe2e9"/>
<rect x="690.5" y="524.12" width="12.0" height="2.91" fill="#ffe1ea"/>
<rect x="690.5" y="521.71" width="12.0" height="2.91" fill="#ffe1ea"/>
<rect x="690.5" y="519.30" width="12.0" height="2.91" fill="#ffe0eb"/>
<rect x="690.5" y="516.89" width="12.0" height="2.91" fill="#ffe0eb"/>
<rect x="690.5" y="514.48" width="12.0" height="2.91" fill="#ffe0eb"/>
<rect x="690.5" y="512.07" width="12.0" height="2.91" fill="#ffdfec"/>
<rect x="690.5" y="509.66" width="12.0" height="2.91" fill="#ffdfec"/>
<rect x="690.5" y="507.25" width="12.0" height="2.91" fill="#ffdeed"/>
<rect x="690.5" y="504.84" width="12.0" height="2.91" fill="#ffdeed"/>
<rect x="690.5" y="502.43" width="12.0" height="2.91" fill="#ffdeed"/>
<rect x="690.5" y="500.02" width="12.0" height="2.91" fill="#ffddee"/>
<rect x="690.5" y="497.61" width="12.0" height="2.91" fill="#ffddee"/>
<rect x="690.5" y="495.20" width="12.0" height="2.91" fill="#ffdcef"/>
<rect x="690.5" y="492.79" width="12.0" height="2.91" fill="#ffdcef"/>
<rect x="690.5" y="490.38" width="12.0" height="2.91" fill="#ffdcef"/>
<rect x="690.5" y="487.97" width="12.0" height="2.91" fill="#ffdbf0"/>
<rect x="690.5" y="485.56" width="12.0" height="2.91" fill="#fedbf0"/>
<rect x="690.5" y="483.15" width="12.0" height="2.91" fill="#fedaf1"/>
<rect x="690.5" y="480.74" width="12.0" height="2.91" fill="#fddaf1"/>
<rect x="690.5" y="478.33" width="12.0" height="2.91" fill="#fcdaf1"/>
<rect x="690.5" y="475.92" width="12.0" height="2.91" fill="#fcd9f2"/>
<rect x="690.5" y="473.51" width="12.0" height="2.91" fill="#fbd9f2"/>
<rect x="690.5" y="471.10" width="12.0" height="2.91" fill="#fad8f3"/>
<rect x="690.5" y="468.69" width="12.0" height="2.91" fill="#fad8f3"/>
<rect x="690.5" y="466.28" width="12.0" height="2.91" fill="#f9d8f3"/>
<rect x="690.5" y="463.87" width="12.0" height="2.91" fill="#f9d7f4"/>
<rect x="690.5" y="461.46" width="12.0" height="2.91" fill="#f8d7f4"/>
<rect x="690.5" y="459.05" width="12.0" height="2.91" fill="#f7d6f5"/>
<rect x="690.5" y="456.64" width="12.0" height="2.91" fill="#f7d6f5"/>
<rect x="690.5" y="454.23" width="12.0" height="2.91" fill="#f6d6f5"/>
<rect x="690.5" y="451.82" width="12.0" height="2.91" fill="#f5d5f6"/>
<rect x="690.5" y="449.41" width="12.0" height="2.91" fill="#f5d5f6"/>
<rect x="690.5" y="447.00" width="12.0" height="2.91" fill="#f4d4f7"/>
<rect x="690.5" y="444.59" width="12.0" height="2.91" fill="#f4d4f7"/>
<rect x="690.5" y="442.18" width="12.0" height="2.91" fill="#f3d4f7"/>
<rect x="690.5" y="439.77" width="12.0" height="2.91" fill="#f2d3f8"/>
<rect x="690.5" y="437.36" width="12.0" height="2.91" fill="#f2d3f8"/>
<rect x="690.5" y="434.95" width="12.0" height="2.91" fill="#f1d2f9"/>
<rect x="690.5" y="432.54" width="12.0" height="2.91" fill="#f0d2f9"/>
<rect x="690.5" y="430.13" width="12.0" height="2.91" fill="#f0d2f9"/>
<rect x="690.5" y="427.72" width="12.0" height="2.91" fill="#efd1fa"/>
<rect x="690.5" y="425.31" width="12.0" height="2.91" fill="#efd1fa"/>
<rect x="690.5" y="422.90" width="12.0" height="2.91" fill="#eed0fb"/>
<rect x="690.5" y="420.49" width="12.0" height="2.91" fill="#edd0fb"/>
<rect x="690.5" y="418.08" width="12.0" height="2.91" fill="#edd0fb"/>
<rect x="690.5" y="415.67" width="12.0" height="2.91" fill="#eccffc"/>
<rect x="690.5" y="413.26" width="12.0" height="2.91" fill="#ebcffc"/>
<rect x="690.5" y="410.85" width="12.0" height="2.91" fill="#ebcefd"/>
<rect x="690.5" y="408.44" width="12.0" height="2.91" fill="#eacefd"/>
<rect x="690.5" y="406.03" width="12.0" height="2.91" fill="#eacefd"/>
<rect x="690.5" y="403.62" width="12.0" height="2.91" fill="#e9cdfe"/>
<rect x="690.5" y="401.21" width="12.0" height="2.91" fill="#e8cdfe"/>
<rect x="690.5" y="398.80" width="12.0" height="2.91" fill="#e8ccff"/>
<rect x="690.5" y="396.39" width="12.0" height="2.91" fill="#e7ccff"/>
<rect x="690.5" y="393.98" width="12.0" height="2.91" fill="#e6ccff"/>
<rect x="690.5" y="391.57" width="12.0" height="2.91" fill="#e6ccff"/>
<rect x="690.5" y="389.16" width="12.0" height="2.91" fill="#e5ccff"/>
<rect x="690.5" y="386.75" width="12.0" height="2.91" fill="#e5ccff"/>
<rect x="690.5" y="384.34" width="12.0" height="2.91" fill="#e4ccff"/>
<rect x="690.5" y="381.93" width="12.0" height="2.91" fill="#e3ccff"/>
<rect x="690.5" y="379.52" width="12.0" height="2.91" fill="#e3ccff"/>
<rect x="690.5" y="377.11" width="12.0" height="2.91" fill="#e2ccff"/>
<rect x="690.5" y="374.70" width="12.0" height="2.91" fill="#e1ccff"/>
<rect x="690.5" y="372.29" width="12.0" height="2.91" fill="#e1ccff"/>
<rect x="690.5" y="369.88" width="12.0" height="2.91" fill="#e0ccff"/>
<rect x="690.5" y="367.46" width="12.0" height="2.91" fill="#e0ccff"/>
<rect x="690.5" y="365.05" width="12.0" height="2.91" fill="#dfccff"/>
<rect x="690.5" y="362.64" width="12.0" height="2.91" fill="#deccff"/>
<rect x="690.5" y="360.23" width="12.0" height="2.91" fill="#deccff"/>
<rect x="690.5" y="357.82" width="12.0" height="2.91" fill="#ddccff"/>
<rect x="690.5" y="355.41" width="12.0" height="2.91" fill="#dcccff"/>
<rect x="690.5" y="353.00" width="12.0" height="2.91" fill="#dcccff"/>
<rect x="690.5" y="350.59" width="12.0" height="2.91" fill="#dbccff"/>
<rect x="690.5" y="348.18" width="12.0" height="2.91" fill="#dbccff"/>
<rect x="690.5" y="345.77" width="12.0" height="2.91" fill="#daccff"/>
<rect x="690.5" y="343.36" width="12.0" height="2.91" fill="#d9ccff"/>
<rect x="690.5" y="340.95" width="12.0" height="2.91" fill="#d9ccff"/>
<rect x="690.5" y="338.54" width="12.0" height="2.91" fill="#d8ccff"/>
<rect x="690.5" y="336.13" width="12.0" height="2.91" fill="#d7ccff"/>
<rect x="690.5" y="333.72" width="12.0" height="2.91" fill="#d7ccff"/>
<rect x="690.5" y="331.31" width="12.0" height="2.91" fill="#d6ccff"/>
<rect x="690.5" y="328.90" width="12.0" height="2.91" fill="#d6ccff"/>
<rect x="690.5" y="326.49" width="12.0" height="2.91" fill="#d5ccff"/>
<rect x="690.5" y="324.08" width="12.0" height="2.91" fill="#d4ccff"/>
<rect x="690.5" y="321.67" width="12.0" height="2.91" fill="#d4ccff"/>
<rect x="690.5" y="319.26" width="12.0" height="2.91" fill="#d3ccff"/>
<rect x="690.5" y="316.85" width="12.0" height="2.91" fill="#d2ccff"/>
<rect x="690.5" y="314.44" width="12.0" height="2.91" fill="#d2ccff"/>
<rect x="690.5" y="312.03" width="12.0" height="2.91" fill="#d1ccff"/>
<rect x="690.5" y="309.62" width="12.0" height="2.91" fill="#d1ccff"/>
<rect x="690.5" y="307.21" width="12.0" height="2.91" fill="#d0ccff"/>
<rect x="690.5" y="304.80" width="12.0" height="2.91" fill="#cfccff"/>
<rect x="690.5" y="302.39" width="12.0" height="2.91" fill="#cfccff"/>
<rect x="690.5" y="299.98" width="12.0" height="2.91" fill="#ceccff"/>
<rect x="690.5" y="297.57" width="12.0" height="2.91" fill="#cdccff"/>
<rect x="690.5" y="295.16" width="12.0" height="2.91" fill="#cdccff"/>
<rect x="690.5" y="292.75" width="12.0" height="2.91" fill="#ccccff"/>
<rect x="690.5" y="290.34" width="12.0" height="2.91" fill="#ccccfe"/>
<rect x="690.5" y="287.93" width="12.0" height="2.91" fill="#ccccfe"/>
<rect x="690.5" y="285.52" width="12.0" height="2.91" fill="#ccccfd"/>
<rect x="690.5" y="283.11" width="12.0" height="2.91" fill="#ccccfc"/>
<rect x="690.5" y="280.70" width="12.0" height="2.91" fill="#ccccfb"/>
<rect x="690.5" y="278.29" width="12.0" height="2.91" fill="#ccccfa"/>
<rect x="690.5" y="275.88" width="12.0" height="2.91" fill="#ccccfa"/>
<rect x="690.5" y="273.47" width="12.0" height="2.91" fill="#ccccf9"/>
<rect x="690.5" y="271.06" width="12.0" height="2.91" fill="#ccccf8"/>
<rect x="690.5" y="268.65" width="12.0" height="2.91" fill="#ccccf7"/>
<rect x="690.5" y="266.24" width="12.0" height="2.91" fill="#ccccf6"/>
<rect x="690.5" y="263.83" width="12.0" height="2.91" fill="#ccccf6"/>
<rect x="690.5" y="261.42" width="12.0" height="2.91" fill="#ccccf5"/>
<rect x="690.5" y="259.01" width="12.0" height="2.91" fill="#ccccf4"/>
<rect x="690.5" y="256.60" width="12.0" height="2.91" fill="#ccccf3"/>
<rect x="690.5" y="254.19" width="12.0" height="2.91" fill="#ccccf2"/>
<rect x="690.5" y="251.78" width="12.0" height="2.91" fill="#ccccf2"/>
<rect x="690.5" y="249.37" width="12.0" height="2.91" fill="#ccccf1"/>
<rect x="690.5" y="246.96" width="12.0" height="2.91" fill="#ccccf0"/>
<rect x="690.5" y="244.55" width="12.0" height="2.91" fill="#ccccef"/>
<rect x="690.5" y="242.14" width="12.0" height="2.91" fill="#ccccee"/>
<rect x="690.5" y="239.73" width="12.0" height="2.91" fill="#ccccee"/>
<rect x="690.5" y="237.32" width="12.0" height="2.91" fill="#cccced"/>
<rect x="690.5" y="234.91" width="12.0" height="2.91" fill="#ccccec"/>
<rect x="690.5" y="232.50" width="12.0" height="2.91" fill="#cccceb"/>
<rect x="690.5" y="230.09" width="12.0" height="2.91" fill="#ccccea"/>
<rect x="690.5" y="227.68" width="12.0" height="2.91" fill="#ccccea"/>
<rect x="690.5" y="225.27" width="12.0" height="2.91" fill="#cccce9"/>
<rect x="690.5" y="222.86" width="12.0" height="2.91" fill="#cccce8"/>
<rect x="690.5" y="220.45" width="12.0" height="2.91" fill="#cccce7"/>
<rect x="690.5" y="218.04" width="12.0" height="2.91" fill="#cccce6"/>
<rect x="690.5" y="215.62" width="12.0" height="2.91" fill="#cccce6"/>
<rect x="690.5" y="213.21" width="12.0" height="2.91" fill="#cccce5"/>
<rect x="690.5" y="210.80" width="12.0" height="2.91" fill="#cccce4"/>
<rect x="690.5" y="208.39" width="12.0" height="2.91" fill="#cccce3"/>
<rect x="690.5" y="205.98" width="12.0" height="2.91" fill="#cccce2"/>
<rect x="690.5" y="203.57" width="12.0" height="2.91" fill="#cccce2"/>
<rect x="690.5" y="201.16" width="12.0" height="2.91" fill="#cccce1"/>
<rect x="690.5" y="198.75" width="12.0" height="2.91" fill="#cccce0"/>
<rect x="690.5" y="196.34" width="12.0" height="2.91" fill="#ccccdf"/>
<rect x="690.5" y="193.93" width="12.0" height="2.91" fill="#ccccde"/>
<rect x="690.5" y="191.52" width="12.0" height="2.91" fill="#ccccde"/>
<rect x="690.5" y="189.11" width="12.0" height="2.91" fill="#ccccdd"/>
<rect x="690.5" y="186.70" width="12.0" height="2.91" fill="#ccccdc"/>
<rect x="690.5" y="184.29" width="12.0" height="2.91" fill="#ccccdb"/>
<rect x="690.5" y="181.88" width="12.0" height="2.91" fill="#ccccda"/>
<rect x="690.5" y="179.47" width="12.0" height="2.91" fill="#ccccda"/>
<rect x="690.5" y="177.06" width="12.0" height="2.91" fill="#ccccd9"/>
<rect x="690.5" y="174.65" width="12.0" height="2.91" fill="#ccccd8"/>
<rect x="690.5" y="172.24" width="12.0" height="2.91" fill="#ccccd7"/>
<rect x="690.5" y="169.83" width="12.0" height="2.91" fill="#ccccd6"/>
<rect x="690.5" y="167.42" width="12.0" height="2.91" fill="#ccccd6"/>
<rect x="690.5" y="165.01" width="12.0" height="2.91" fill="#ccccd5"/>
<rect x="690.5" y="162.60" width="12.0" height="2.91" fill="#ccccd4"/>
<rect x="690.5" y="160.19" width="12.0" height="2.91" fill="#ccccd3"/>
<rect x="690.5" y="157.78" width="12.0" height="2.91" fill="#ccccd2"/>
<rect x="690.5" y="155.37" width="12.0" height="2.91" fill="#ccccd2"/>
<rect x="690.5" y="152.96" width="12.0" height="2.91" fill="#ccccd1"/>
<rect x="690.5" y="150.55" width="12.0" height="2.91" fill="#ccccd0"/>
<rect x="690.5" y="148.14" width="12.0" height="2.91" fill="#cccccf"/>
<rect x="690.5" y="145.73" width="12.0" height="2.91" fill="#ccccce"/>
<rect x="690.5" y="143.32" width="12.0" height="2.91" fill="#ccccce"/>
<rect x="690.5" y="140.91" width="12.0" height="2.91" fill="#cccccd"/>
<rect x="690.5" y="138.50" width="12.0" height="2.91" fill="#cccccc"/>
</g>
<g shape-rendering="crispEdges" fill-opacity="0.2">
<rect x="690.5" y="753" width="12.0" height="1" fill="#fffff3"/>
<rect x="690.5" y="750" width="12.0" height="1" fill="#ffffe6"/>
<rect x="690.5" y="748" width="12.0" height="1" fill="#ffffda"/>
<rect x="690.5" y="745" width="12.0" height="1" fill="#ffffcd"/>
<rect x="690.5" y="743" width="12.0" height="1" fill="#ffffc0"/>
<rect x="690.5" y="741" width="12.0" height="1" fill="#ffffb4"/>
<rect x="690.5" y="738" width="12.0" height="1" fill="#ffffa7"/>
<rect x="690.5" y="736" width="12.0" height="1" fill="#ffff9b"/>
<rect x="690.5" y="733" width="12.0" height="1" fill="#ffff8e"/>
<rect x="690.5" y="731" width="12.0" height="1" fill="#ffff82"/>
<rect x="690.5" y="728" width="12.0" height="1" fill="#ffff76"/>
<rect x="690.5" y="726" width="12.0" height="1" fill="#ffff69"/>
<rect x="690.5" y="724" width="12.0" height="1" fill="#ffff5c"/>
<rect x="690.5" y="721" width="12.0" height="1" fill="#ffff50"/>
<rect x="690.5" y="719" width="12.0" height="1" fill="#ffff43"/>
<rect x="690.5" y="716" width="12.0" height="1" fill="#ffff37"/>
<rect x="690.5" y="714" width="12.0" height="1" fill="#ffff2a"/>
<rect x="690.5" y="712" width="12.0" height="1" fill="#ffff1e"/>
<rect x="690.5" y="709" width="12.0" height="1" fill="#ffff11"/>
<rect x="690.5" y="707" width="12.0" height="1" fill="#ffff05"/>
<rect x="690.5" y="704" width="12.0" height="1" fill="#fffe01"/>
<rect x="690.5" y="702" width="12.0" height="1" fill="#fffc03"/>
<rect x="690.5" y="700" width="12.0" height="1" fill="#fffa05"/>
<rect x="690.5" y="697" width="12.0" height="1" fill="#fff807"/>
<rect x="690.5" y="695" width="12.0" height="1" fill="#fff609"/>
<rect x="690.5" y="692" width="12.0" height="1" fill="#fff40b"/>
<rect x="690.5" y="690" width="12.0" height="1" fill="#fff20d"/>
<rect x="690.5" y="688" width="12.0" height="1" fill="#fff00f"/>
<rect x="690.5" y="685" width="12.0" height="1" fill="#ffee11"/>
<rect x="690.5" y="683" width="12.0" height="1" fill="#ffec13"/>
<rect x="690.5" y="680" width="12.0" height="1" fill="#ffea15"/>
<rect x="690.5" y="678" width="12.0" height="1" fill="#ffe817"/>
<rect x="690.5" y="675" width="12.0" height="1" fill="#ffe619"/>
<rect x="690.5" y="673" width="12.0" height="1" fill="#ffe41b"/>
<rect x="690.5" y="671" width="12.0" height="1" fill="#ffe21d"/>
<rect x="690.5" y="668" width="12.0" height="1" fill="#ffe01f"/>
<rect x="690.5" y="666" width="12.0" height="1" fill="#ffde21"/>
<rect x="690.5" y="663" width="12.0" height="1" fill="#ffdc23"/>
<rect x="690.5" y="661" width="12.0" height="1" fill="#ffda25"/>
<rect x="690.5" y="659" width="12.0" height="1" fill="#ffd827"/>
<rect x="690.5" y="656" width="12.0" height="1" fill="#ffd629"/>
<rect x="690.5" y="654" width="12.0" height="1" fill="#ffd42b"/>
<rect x="690.5" y="651" width="12.0" height="1" fill="#ffd22d"/>
<rect x="690.5" y="649" width="12.0" height="1" fill="#ffd02f"/>
<rect x="690.5" y="647" width="12.0" height="1" fill="#ffce31"/>
<rect x="690.5" y="644" width="12.0" height="1" fill="#ffcc33"/>
<rect x="690.5" y="642" width="12.0" height="1" fill="#ffca35"/>
<rect x="690.5" y="639" width="12.0" height="1" fill="#ffc837"/>
<rect x="690.5" y="637" width="12.0" height="1" fill="#ffc639"/>
<rect x="690.5" y="634" width="12.0" height="1" fill="#ffc43b"/>
<rect x="690.5" y="632" width="12.0" height="1" fill="#ffc23d"/>
<rect x="690.5" y="630" width="12.0" height="1" fill="#ffc03f"/>
<rect x="690.5" y="627" width="12.0" height="1" fill="#ffbe41"/>
<rect x="690.5" y="625" width="12.0" height="1" fill="#ffbc43"/>
<rect x="690.5" y="622" width="12.0" height="1" fill="#ffba45"/>
<rect x="690.5" y="620" width="12.0" height="1" fill="#ffb847"/>
<rect x="690.5" y="618" width="12.0" height="1" fill="#ffb649"/>
<rect x="690.5" y="615" width="12.0" height="1" fill="#ffb44b"/>
<rect x="690.5" y="613" width="12.0" height="1" fill="#ffb24d"/>
<rect x="690.5" y="610" width="12.0" height="1" fill="#ffb04f"/>
<rect x="690.5" y="608" width="12.0" height="1" fill="#ffae51"/>
<rect x="690.5" y="606" width="12.0" height="1" fill="#ffac53"/>
<rect x="690.5" y="603" width="12.0" height="1" fill="#ffaa55"/>
<rect x="690.5" y="601" width="12.0" height="1" fill="#ffa857"/>
<rect x="690.5" y="598" width="12.0" height="1" fill="#ffa659"/>
<rect x="690.5" y="596" width="12.0" height="1" fill="#ffa45b"/>
<rect x="690.5" y="594" width="12.0" height="1" fill="#ffa25d"/>
<rect x="690.5" y="591" width="12.0" height="1" fill="#ffa05f"/>
<rect x="690.5" y="589" width="12.0" height="1" fill="#ff9e61"/>
<rect x="690.5" y="586" width="12.0" height="1" fill="#ff9c63"/>
<rect x="690.5" y="584" width="12.0" height="1" fill="#ff9a65"/>
<rect x="690.5" y="581" width="12.0" height="1" fill="#ff9867"/>
<rect x="690.5" y="579" width="12.0" height="1" fill="#ff9669"/>
<rect x="690.5" y="577" width="12.0" height="1" fill="#ff946b"/>
<rect x="690.5" y="574" width="12.0" height="1" fill="#ff926d"/>
<rect x="690.5" y="572" width="12.0" height="1" fill="#ff906f"/>
<rect x="690.5" y="569" width="12.0" height="1" fill="#ff8e71"/>
<rect x="690.5" y="567" width="12.0" height="1" fill="#ff8c73"/>
<rect x="690.5" y="565" width="12.0" height="1" fill="#ff8a75"/>
<rect x="690.5" y="562" width="12.0" height="1" fill="#ff8877"/>
<rect x="690.5" y="560" width="12.0" height="1" fill="#ff8679"/>
<rect x="690.5" y="557" width="12.0" height="1" fill="#ff847b"/>
<rect x="690.5" y="555" width="12.0" height="1" fill="#ff827d"/>
<rect x="690.5" y="553" width="12.0" height="1" fill="#ff807f"/>
<rect x="690.5" y="550" width="12.0" height="1" fill="#ff7e81"/>
<rect x="690.5" y="548" width="12.0" height="1" fill="#ff7c83"/>
<rect x="690.5" y="545" width="12.0" height="1" fill="#ff7a85"/>
<rect x="690.5" y="543" width="12.0" height="1" fill="#ff7887"/>
<rect x="690.5" y="540" width="12.0" height="1" fill="#ff7689"/>
<rect x="690.5" y="538" width="12.0" height="1" fill="#ff748b"/>
<rect x="690.5" y="536" width="12.0" height="1" fill="#ff728d"/>
<rect x="690.5" y="533" width="12.0" height="1" fill="#ff708f"/>
<rect x="690.5" y="531" width="12.0" height="1" fill="#ff6e91"/>
<rect x="690.5" y="528" width="12.0" height="1" fill="#ff6c93"/>
<rect x="690.5" y="526" width="12.0" height="1" fill="#ff6a95"/>
<rect x="690.5" y="524" width="12.0" height="1" fill="#ff6897"/>
<rect x="690.5" y="521" width="12.0" height="1" fill="#ff6699"/>
<rect x="690.5" y="519" width="12.0" height="1" fill="#ff649b"/>
<rect x="690.5" y="516" width="12.0" height="1" fill="#ff629d"/>
<rect x="690.5" y="514" width="12.0" height="1" fill="#ff609f"/>
<rect x="690.5" y="512" width="12.0" height="1" fill="#ff5ea1"/>
<rect x="690.5" y="509" width="12.0" height="1" fill="#ff5ca3"/>
<rect x="690.5" y="507" width="12.0" height="1" fill="#ff5aa5"/>
<rect x="690.5" y="504" width="12.0" height="1" fill="#ff58a7"/>
<rect x="690.5" y="502" width="12.0" height="1" fill="#ff56a9"/>
<rect x="690.5" y="500" width="12.0" height="1" fill="#ff54ab"/>
<rect x="690.5" y="497" width="12.0" height="1" fill="#ff52ad"/>
<rect x="690.5" y="495" width="12.0" height="1" fill="#ff50af"/>
<rect x="690.5" y="492" width="12.0" height="1" fill="#ff4eb1"/>
<rect x="690.5" y="490" width="12.0" height="1" fill="#fe4cb3"/>
<rect x="690.5" y="487" width="12.0" height="1" fill="#fb4ab5"/>
<rect x="690.5" y="485" width="12.0" height="1" fill="#f848b7"/>
<rect x="690.5" y="483" width="12.0" height="1" fill="#f546b9"/>
<rect x="690.5" y="480" width="12.0" height="1" fill="#f144bb"/>
<rect x="690.5" y="478" width="12.0" height="1" fill="#ee42bd"/>
<rect x="690.5" y="475" width="12.0" height="1" fill="#eb40bf"/>
<rect x="690.5" y="473" width="12.0" height="1" fill="#e83ec1"/>
<rect x="690.5" y="471" width="12.0" height="1" fill="#e53cc3"/>
<rect x="690.5" y="468" width="12.0" height="1" fill="#e23ac5"/>
<rect x="690.5" y="466" width="12.0" height="1" fill="#df38c7"/>
<rect x="690.5" y="463" width="12.0" height="1" fill="#dc36c9"/>
<rect x="690.5" y="461" width="12.0" height="1" fill="#d834cb"/>
<rect x="690.5" y="459" width="12.0" height="1" fill="#d532cd"/>
<rect x="690.5" y="456" width="12.0" height="1" fill="#d230cf"/>
<rect x="690.5" y="454" width="12.0" height="1" fill="#cf2ed1"/>
<rect x="690.5" y="451" width="12.0" height="1" fill="#cc2cd3"/>
<rect x="690.5" y="449" width="12.0" height="1" fill="#c92ad5"/>
<rect x="690.5" y="447" width="12.0" height="1" fill="#c628d7"/>
<rect x="690.5" y="444" width="12.0" height="1" fill="#c326d9"/>
<rect x="690.5" y="442" width="12.0" height="1" fill="#bf24db"/>
<rect x="690.5" y="439" width="12.0" height="1" fill="#bc22dd"/>
<rect x="690.5" y="437" width="12.0" height="1" fill="#b920df"/>
<rect x="690.5" y="434" width="12.0" height="1" fill="#b61ee1"/>
<rect x="690.5" y="432" width="12.0" height="1" fill="#b31ce3"/>
<rect x="690.5" y="430" width="12.0" height="1" fill="#b01ae5"/>
<rect x="690.5" y="427" width="12.0" height="1" fill="#ad18e7"/>
<rect x="690.5" y="425" width="12.0" height="1" fill="#aa16e9"/>
<rect x="690.5" y="422" width="12.0" height="1" fill="#a614eb"/>
<rect x="690.5" y="420" width="12.0" height="1" fill="#a312ed"/>
<rect x="690.5" y="418" width="12.0" height="1" fill="#a010ef"/>
<rect x="690.5" y="415" width="12.0" height="1" fill="#9d0ef1"/>
<rect x="690.5" y="413" width="12.0" height="1" fill="#9a0cf3"/>
<rect x="690.5" y="410" width="12.0" height="1" fill="#970af5"/>
<rect x="690.5" y="408" width="12.0" height="1" fill="#9408f7"/>
<rect x="690.5" y="406" width="12.0" height="1" fill="#9106f9"/>
<rect x="690.5" y="403" width="12.0" height="1" fill="#8d04fb"/>
<rect x="690.5" y="401" width="12.0" height="1" fill="#8a02fd"/>
<rect x="690.5" y="398" width="12.0" height="1" fill="#8700ff"/>
<rect x="690.5" y="396" width="12.0" height="1" fill="#8400ff"/>
<rect x="690.5" y="393" width="12.0" height="1" fill="#8100ff"/>
<rect x="690.5" y="391" width="12.0" height="1" fill="#7e00ff"/>
<rect x="690.5" y="389" width="12.0" height="1" fill="#7b00ff"/>
<rect x="690.5" y="386" width="12.0" height="1" fill="#7800ff"/>
<rect x="690.5" y="384" width="12.0" height="1" fill="#7400ff"/>
<rect x="690.5" y="381" width="12.0" height="1" fill="#7100ff"/>
<rect x="690.5" y="379" width="12.0" height="1" fill="#6e00ff"/>
<rect x="690.5" y="377" width="12.0" height="1" fill="#6b00ff"/>
<rect x="690.5" y="374" width="12.0" height="1" fill="#6800ff"/>
<rect x="690.5" y="372" width="12.0" height="1" fill="#6500ff"/>
<rect x="690.5" y="369" width="12.0" height="1" fill="#6200ff"/>
<rect x="690.5" y="367" width="12.0" height="1" fill="#5f00ff"/>
<rect x="690.5" y="365" width="12.0" height="1" fill="#5b00ff"/>
<rect x="690.5" y="362" width="12.0" height="1" fill="#5800ff"/>
<rect x="690.5" y="360" width="12.0" height="1" fill="#5500ff"/>
<rect x="690.5" y="357" width="12.0" height="1" fill="#5200ff"/>
<rect x="690.5" y="355" width="12.0" height="1" fill="#4f00ff"/>
<rect x="690.5" y="353" width="12.0" height="1" fill="#4c00ff"/>
<rect x="690.5" y="350" width="12.0" height="1" fill="#4900ff"/>
<rect x="690.5" y="348" width="12.0" height="1" fill="#4600ff"/>
<rect x="690.5" y="345" width="12.0" height="1" fill="#4200ff"/>
<rect x="690.5" y="343" width="12.0" height="1" fill="#3f00ff"/>
<rect x="690.5" y="340" width="12.0" height="1" fill="#3c00ff"/>
<rect x="690.5" y="338" width="12.0" height="1" fill="#3900ff"/>
<rect x="690.5" y="336" width="12.0" height="1" fill="#3600ff"/>
<rect x="690.5" y="333" width="12.0" height="1" fill="#3300ff"/>
<rect x="690.5" y="331" width="12.0" height="1" fill="#3000ff"/>
<rect x="690.5" y="328" width="12.0" height="1" fill="#2d00ff"/>
<rect x="690.5" y="326" width="12.0" height="1" fill="#2900ff"/>
<rect x="690.5" y="324" width="12.0" height="1" fill="#2600ff"/>
<rect x="690.5" y="321" width="12.0" height="1" fill="#2300ff"/>
<rect x="690.5" y="319" width="12.0" height="1" fill="#2000ff"/>
<rect x="690.5" y="316" width="12.0" height="1" fill="#1d00ff"/>
<rect x="690.5" y="314" width="12.0" height="1" fill="#1a00ff"/>
<rect x="690.5" y="312" width="12.0" height="1" fill="#1700ff"/>
<rect x="690.5" y="309" width="12.0" height="1" fill="#1400ff"/>
<rect x="690.5" y="307" width="12.0" height="1" fill="#1000ff"/>
<rect x="690.5" y="304" width="12.0" height="1" fill="#0d00ff"/>
<rect x="690.5" y="302" width="12.0" height="1" fill="#0a00ff"/>
<rect x="690.5" y="299" width="12.0" height="1" fill="#0700ff"/>
<rect x="690.5" y="297" width="12.0" height="1" fill="#0400ff"/>
<rect x="690.5" y="295" width="12.0" height="1" fill="#0100ff"/>
<rect x="690.5" y="292" width="12.0" height="1" fill="#0000fc"/>
<rect x="690.5" y="290" width="12.0" height="1" fill="#0000f8"/>
<rect x="690.5" y="287" width="12.0" height="1" fill="#0000f4"/>
<rect x="690.5" y="285" width="12.0" height="1" fill="#0000f0"/>
<rect x="690.5" y="283" width="12.0" height="1" fill="#0000ec"/>
<rect x="690.5" y="280" width="12.0" height="1" fill="#0000e8"/>
<rect x="690.5" y="278" width="12.0" height="1" fill="#0000e4"/>
<rect x="690.5" y="275" width="12.0" height="1" fill="#0000e0"/>
<rect x="690.5" y="273" width="12.0" height="1" fill="#0000dc"/>
<rect x="690.5" y="271" width="12.0" height="1" fill="#0000d8"/>
<rect x="690.5" y="268" width="12.0" height="1" fill="#0000d4"/>
<rect x="690.5" y="266" width="12.0" height="1" fill="#0000d0"/>
<rect x="690.5" y="263" width="12.0" height="1" fill="#0000cc"/>
<rect x="690.5" y="261" width="12.0" height="1" fill="#0000c8"/>
<rect x="690.5" y="259" width="12.0" height="1" fill="#0000c4"/>
<rect x="690.5" y="256" width="12.0" height="1" fill="#0000c0"/>
<rect x="690.5" y="254" width="12.0" height="1" fill="#0000bc"/>
<rect x="690.5" y="251" width="12.0" height="1" fill="#0000b8"/>
<rect x="690.5" y="249" width="12.0" height="1" fill="#0000b4"/>
<rect x="690.5" y="246" width="12.0" height="1" fill="#0000b0"/>
<rect x="690.5" y="244" width="12.0" height="1" fill="#0000ac"/>
<rect x="690.5" y="242" width="12.0" height="1" fill="#0000a8"/>
<rect x="690.5" y="239" width="12.0" height="1" fill="#0000a4"/>
<rect x="690.5" y="237" width="12.0" height="1" fill="#0000a0"/>
<rect x="690.5" y="234" width="12.0" height="1" fill="#00009c"/>
<rect x="690.5" y="232" width="12.0" height="1" fill="#000098"/>
<rect x="690.5" y="230" width="12.0" height="1" fill="#000094"/>
<rect x="690.5" y="227" width="12.0" height="1" fill="#000090"/>
<rect x="690.5" y="225" width="12.0" height="1" fill="#00008c"/>
<rect x="690.5" y="222" width="12.0" height="1" fill="#000088"/>
<rect x="690.5" y="220" width="12.0" height="1" fill="#000084"/>
<rect x="690.5" y="218" width="12.0" height="1" fill="#000080"/>
<rect x="690.5" y="215" width="12.0" height="1" fill="#00007c"/>
<rect x="690.5" y="213" width="12.0" height="1" fill="#000078"/>
<rect x="690.5" y="210" width="12.0" height="1" fill="#000074"/>
<rect x="690.5" y="208" width="12.0" height="1" fill="#000070"/>
<rect x="690.5" y="205" width="12.0" height="1" fill="#00006c"/>
<rect x="690.5" y="203" width="12.0" height="1" fill="#000068"/>
<rect x="690.5" y="201" width="12.0" height="1" fill="#000064"/>
<rect x="690.5" y="198" width="12.0" height="1" fill="#000060"/>
<rect x="690.5" y="196" width="12.0" height="1" fill="#00005c"/>
<rect x="690.5" y="193" width="12.0" height="1" fill="#000058"/>
<rect x="690.5" y="191" width="12.0" height="1" fill="#000054"/>
<rect x="690.5" y="189" width="12.0" height="1" fill="#000050"/>
<rect x="690.5" y="186" width="12.0" height="1" fill="#00004c"/>
<rect x="690.5" y="184" width="12.0" height="1" fill="#000048"/>
<rect x="690.5" y="181" width="12.0" height="1" fill="#000044"/>
<rect x="690.5" y="179" width="12.0" height="1" fill="#000040"/>
<rect x="690.5" y="177" width="12.0" height="1" fill="#00003c"/>
<rect x="690.5" y="174" width="12.0" height="1" fill="#000038"/>
<rect x="690.5" y="172" width="12.0" height="1" fill="#000034"/>
<rect x="690.5" y="169" width="12.0" height="1" fill="#000030"/>
<rect x="690.5" y="167" width="12.0" height="1" fill="#00002c"/>
<rect x="690.5" y="165" width="12.0" height="1" fill="#000028"/>
<rect x="690.5" y="162" width="12.0" height="1" fill="#000024"/>
<rect x="690.5" y="160" width="12.0" height="1" fill="#000020"/>
<rect x="690.5" y="157" width="12.0" height="1" fill="#00001c"/>
<rect x="690.5" y="155" width="12.0" height="1" fill="#000018"/>
<rect x="690.5" y="152" width="12.0" height="1" fill="#000014"/>
<rect x="690.5" y="150" width="12.0" height="1" fill="#000010"/>
<rect x="690.5" y="148" width="12.0" height="1" fill="#00000c"/>
<rect x="690.5" y="145" width="12.0" height="1" fill="#000008"/>
<rect x="690.5" y="143" width="12.0" height="1" fill="#000004"/>
<rect x="690.5" y="140" width="12.0" height="1" fill="#000000"/>
</g>
</g>
<rect x="690.5" y="138.5" width="12.0" height="617.0" fill="none" stroke="#000" stroke-width="1.1"/>
<text x="711.90" y="760.80" font-size="13.889" text-anchor="start">0</text>
<text x="711.90" y="672.80" font-size="13.889" text-anchor="start">1</text>
<text x="711.90" y="583.80" font-size="13.889" text-anchor="start">2</text>
<text x="711.90" y="495.80" font-size="13.889" text-anchor="start">3</text>
<text x="711.90" y="407.80" font-size="13.889" text-anchor="start">4</text>
<text x="711.90" y="319.80" font-size="13.889" text-anchor="start">5</text>
<text x="711.90" y="231.80" font-size="13.889" text-anchor="start">6</text>
<text x="711.90" y="143.80" font-size="13.889" text-anchor="start">7</text>
<path d="M702.5 755.50h4.86M702.5 667.50h4.86M702.5 578.50h4.86M702.5 490.50h4.86M702.5 402.50h4.86M702.5 314.50h4.86M702.5 226.50h4.86M702.5 138.50h4.86" stroke="#000" stroke-width="1.1" fill="none"/>
<text transform="translate(738.6,446.8) rotate(-90)" font-size="13.889" text-anchor="middle"><tspan font-style="italic">log</tspan><tspan font-size="10.2" dy="1.6">10</tspan><tspan dy="-1.6"> Intensity (arbitrary unit)</tspan></text>
</g>
<g transform="translate(761.0,0)">
<use href="#jetimg"/><path d="M358.3 361.2L367.9 367.6M374.1 360.2L383.0 367.9M391.1 359.7L397.8 368.6M326.1 380.2L337.0 381.5M341.9 378.5L352.8 382.2M374.4 376.3L383.0 383.7M408.2 374.6L412.7 384.7M326.1 396.5L337.0 396.5M341.9 395.2L352.8 397.5M408.8 390.0L411.9 401.0M425.8 390.0L426.9 400.6M326.1 413.6L336.2 411.1M410.2 405.1L411.7 416.0M427.0 405.4L426.3 416.0M326.3 430.6L336.7 426.2M341.4 429.2L352.8 426.2M412.3 420.0L410.4 431.9M428.8 421.0L425.0 431.9M327.8 447.9L335.7 440.4M342.9 447.9L351.8 440.2M398.6 436.7L393.4 446.9M414.7 437.2L408.7 446.6M331.0 462.7L335.6 452.3M363.5 451.8L364.5 463.0M373.0 457.2L384.0 459.6M389.2 462.0L399.1 457.3M405.2 462.7L414.2 456.8M421.1 463.7L429.8 456.3M333.8 467.2L332.3 478.6M347.6 467.5L349.4 478.6M360.2 468.2L366.7 477.9M373.1 471.2L383.8 476.6M388.2 474.4L399.8 474.4M404.3 476.6L414.9 473.2M420.1 477.6L430.7 472.4M332.5 483.1L333.8 494.0M346.4 483.1L350.3 493.7M360.0 484.3L366.9 493.2M388.2 488.3L399.3 490.7M404.0 490.5L414.9 489.3M419.6 491.7L430.7 489.0M331.3 498.7L334.3 509.4M345.1 499.2L350.8 509.4M373.9 501.4L383.5 507.6M388.4 503.2L399.3 506.9M404.0 504.4L414.9 505.6M344.9 515.3L350.8 524.7M359.0 516.0L366.9 523.7M374.1 517.3L383.5 523.5M388.9 518.3L399.3 522.7M404.0 519.3L414.9 521.7" fill="none" stroke="#1a1a1a" stroke-width="0.8"/><path d="M360.0 362.4L357.5 363.9M329.8 384.7L326.8 389.2M326.3 391.6L324.1 395.2M322.4 401.4L320.6 405.4M320.4 426.7L323.1 432.6M321.6 463.7L320.6 467.2M320.6 488.1L323.1 494.8M329.8 509.7L335.2 516.9M336.5 518.1L344.7 524.1M363.2 532.0L367.9 533.5M396.1 530.0L400.8 527.5M402.3 526.8L408.0 524.3M431.7 476.5L430.7 482.4M427.3 456.8L429.5 461.2M431.0 410.3L431.0 416.8M427.2 393.2L430.0 399.5M423.6 388.2L426.8 392.1M405.2 368.6L414.7 374.8L418.1 379.3L423.6 386.7M399.1 365.1L403.8 367.9" fill="none" stroke="#ffbc43" stroke-width="2.3"/><g fill="#ffbc43"><rect x="350.9" y="364.9" width="1.9" height="1.9"/><rect x="344.4" y="368.2" width="1.9" height="1.9"/><rect x="326.4" y="448.4" width="1.9" height="1.9"/><rect x="323.4" y="454.6" width="1.9" height="1.9"/><rect x="325.9" y="504.4" width="1.9" height="1.9"/><rect x="354.1" y="529.0" width="1.9" height="1.9"/><rect x="384.8" y="532.2" width="1.9" height="1.9"/><rect x="421.9" y="507.8" width="1.9" height="1.9"/><rect x="427.9" y="494.9" width="1.9" height="1.9"/><rect x="425.4" y="451.4" width="1.9" height="1.9"/><rect x="428.1" y="432.7" width="1.9" height="1.9"/><rect x="391.4" y="360.9" width="1.9" height="1.9"/></g><path d="M335.2 440.4C335.2 440.1 334.9 438.8 335.5 438.5C336.1 438.2 338.7 438.4 340.0 438.3C341.3 438.2 344.7 438.2 345.6 438.0C346.5 437.8 346.7 437.4 346.9 437.0C347.1 436.6 347.1 435.7 346.9 435.0C346.7 434.3 346.3 433.3 345.6 432.1C344.9 430.9 342.7 427.5 341.7 425.7C340.7 423.9 338.8 420.2 338.2 418.3C337.6 416.4 337.1 413.1 337.0 411.3C336.9 409.5 337.1 406.4 337.2 404.9C337.3 403.4 337.6 401.4 338.0 400.0C338.4 398.6 339.4 396.0 340.0 394.6C340.6 393.2 341.6 391.0 342.2 389.7C342.8 388.4 343.7 386.5 344.7 385.2C345.7 383.9 348.0 381.5 349.6 380.2C351.2 378.9 355.0 376.4 357.0 375.3C359.0 374.2 362.3 372.6 364.5 371.8C366.7 371.0 371.3 369.9 373.4 369.6C375.5 369.3 378.4 369.7 380.0 369.8C381.6 369.9 383.9 370.1 385.2 370.4C386.5 370.7 388.3 371.4 389.6 371.9C390.9 372.4 393.4 373.5 394.9 374.4C396.4 375.3 399.1 377.1 400.8 378.3C402.5 379.5 406.6 382.4 407.5 383.5C408.4 384.6 406.8 385.9 407.2 386.7C407.6 387.5 409.5 388.6 410.2 389.7C410.9 390.8 411.8 393.4 412.3 394.8C412.8 396.2 413.4 398.7 413.7 400.0C414.0 401.3 414.7 403.6 414.9 404.9C415.1 406.2 415.1 408.3 414.9 409.9C414.7 411.5 414.1 415.1 413.7 416.8C413.3 418.5 412.4 421.0 411.7 422.7C411.0 424.4 409.1 427.6 408.2 429.2C407.3 430.8 405.7 434.0 405.2 435.0C404.7 436.0 403.7 436.7 404.3 437.0C404.9 437.3 408.3 437.0 409.7 437.2C411.1 437.4 413.7 437.8 414.7 438.5C415.7 439.2 416.7 441.2 417.1 442.4C417.5 443.6 417.5 446.1 417.4 447.4C417.3 448.7 417.0 450.7 416.6 451.8C416.2 452.9 415.6 455.3 414.7 455.8C413.8 456.3 411.0 455.7 409.7 455.8C408.4 455.9 406.1 456.2 404.8 456.5C403.5 456.8 401.1 457.7 399.8 458.3C398.5 458.9 396.4 460.4 395.3 460.7C394.2 461.0 392.8 460.3 391.9 460.7C391.0 461.1 389.3 463.1 388.4 463.7C387.5 464.3 386.1 464.9 385.0 465.2C383.9 465.5 381.4 465.8 380.0 465.9C378.6 466.0 375.8 466.0 374.4 465.9C373.0 465.8 370.7 465.6 369.4 465.4C368.1 465.2 365.9 464.7 364.5 464.2C363.1 463.7 359.7 462.3 359.0 462.0M378.3 449.4C378.5 449.2 379.0 448.3 380.0 448.1C381.0 447.9 384.7 448.2 385.9 447.9C387.1 447.6 388.0 446.0 388.9 445.6C389.8 445.2 391.5 445.1 392.4 444.7C393.3 444.3 394.3 443.0 395.3 442.7C396.3 442.4 399.1 442.1 399.8 442.4C400.5 442.7 400.6 444.0 400.8 444.9C401.0 445.8 401.6 448.0 401.5 448.9C401.4 449.8 400.4 451.1 399.8 451.8C399.2 452.5 397.8 453.7 396.8 454.3C395.8 454.9 393.7 455.6 392.4 456.0C391.1 456.4 388.4 457.1 387.4 457.3C386.4 457.5 386.1 457.2 385.0 457.3C383.9 457.4 380.7 458.2 379.3 458.3C377.9 458.4 375.7 458.3 374.4 458.3C373.1 458.3 370.7 458.6 369.4 458.5C368.1 458.4 365.8 457.9 364.5 457.5C363.2 457.1 360.7 456.3 359.5 455.8C358.3 455.3 356.0 454.1 355.5 453.8M368.4 486.4L369.9 482.3L373.2 478.9L377.3 478.7L383.3 483.0L384.0 486.4L382.5 490.1L378.8 493.4L375.1 494.3L371.0 492.3L368.8 489.3Z" fill="none" stroke="#ff4eb1" stroke-width="2.2" stroke-linejoin="round"/><path d="M382.0 404.9C381.2 404.6 377.5 402.7 375.8 402.7C374.1 402.7 370.9 404.0 369.4 404.9C367.9 405.8 365.6 407.9 364.5 409.4C363.4 410.9 361.7 414.0 361.0 415.8C360.3 417.6 359.5 421.0 359.3 422.7C359.1 424.4 359.1 427.1 359.3 428.7C359.5 430.3 360.1 433.8 360.5 435.0C360.9 436.2 361.8 437.1 362.5 438.0C363.2 438.9 364.9 441.0 366.0 441.9C367.1 442.8 369.3 444.3 370.4 444.9C371.5 445.5 373.3 446.1 374.4 446.3C375.5 446.5 377.3 446.6 378.3 446.5C379.3 446.4 380.9 445.6 381.8 445.2C382.7 444.8 384.1 444.0 385.0 443.4C385.9 442.8 388.3 440.9 388.8 440.5" fill="none" stroke="#5500ff" stroke-width="2.1"/><g font-size="10.8"><text transform="translate(343.5,448.7) rotate(-7.1)" fill="#ff4eb1">3.000</text><text transform="translate(328.1,448.5) rotate(41.6)" fill="#ff4eb1">3.000</text><text transform="translate(388.45,407.1) rotate(80.2)" fill="#5500ff">4.500</text></g><circle cx="376.6" cy="445.4" r="1.3" fill="#000080"/>
<rect x="68.5" y="138.5" width="617.0" height="617.0" fill="none" stroke="#000" stroke-width="1.1"/>
<path d="M144.5 755.5v4.86M68.5 679.5h-4.86M222.5 755.5v4.86M68.5 601.5h-4.86M299.5 755.5v4.86M68.5 524.5h-4.86M377.5 755.5v4.86M68.5 446.5h-4.86M454.5 755.5v4.86M68.5 369.5h-4.86M532.5 755.5v4.86M68.5 291.5h-4.86M609.5 755.5v4.86M68.5 214.5h-4.86" stroke="#000" stroke-width="1.1" fill="none"/>
<text x="144.50" y="775.80" font-size="13.889" text-anchor="middle" textLength="28.1">−75</text>
<text x="58.30" y="684.00" font-size="13.889" text-anchor="end" textLength="28.1">−75</text>
<text x="222.50" y="775.80" font-size="13.889" text-anchor="middle" textLength="28.1">−50</text>
<text x="58.30" y="607.00" font-size="13.889" text-anchor="end" textLength="28.1">−50</text>
<text x="299.50" y="775.80" font-size="13.889" text-anchor="middle" textLength="28.1">−25</text>
<text x="58.30" y="529.00" font-size="13.889" text-anchor="end" textLength="28.1">−25</text>
<text x="377.50" y="775.80" font-size="13.889" text-anchor="middle">0</text>
<text x="59.90" y="452.00" font-size="13.889" text-anchor="end">0</text>
<text x="454.50" y="775.80" font-size="13.889" text-anchor="middle">25</text>
<text x="58.30" y="374.00" font-size="13.889" text-anchor="end">25</text>
<text x="531.50" y="775.80" font-size="13.889" text-anchor="middle">50</text>
<text x="58.30" y="297.00" font-size="13.889" text-anchor="end">50</text>
<text x="608.70" y="775.80" font-size="13.889" text-anchor="middle">75</text>
<text x="58.30" y="219.00" font-size="13.889" text-anchor="end">75</text>
<text x="377.10" y="794.60" font-size="13.889" text-anchor="middle" textLength="98.6">Offset (pixels)</text>
<text transform="translate(19.9,446.8) rotate(-90)" font-size="13.889" text-anchor="middle" textLength="98.4">Offset (pixels)</text>
<text x="376.90" y="130.00" font-size="16.667" text-anchor="middle" textLength="178.1">With Faraday effects.</text>
<path d="M103.2 720.4h5.7" stroke="#000" stroke-width="1.6" fill="none"/>
<text x="82.00" y="738.00" font-size="13.889" text-anchor="start">10 kpc</text>
<path d="M601.2 717.4h31.4" stroke="#000" stroke-width="1.5" fill="none"/>
<text x="563.3" y="736.4" font-size="13.889" text-anchor="start"><tspan font-style="italic">p</tspan><tspan font-style="italic" font-size="9.72" dy="1.5">max</tspan><tspan dy="-1.5">=0.507778</tspan></text>
<use href="#cbar"/>
<rect x="690.5" y="138.5" width="12.0" height="617.0" fill="none" stroke="#000" stroke-width="1.1"/>
<text x="711.90" y="760.80" font-size="13.889" text-anchor="start">0</text>
<text x="711.90" y="672.80" font-size="13.889" text-anchor="start">1</text>
<text x="711.90" y="583.80" font-size="13.889" text-anchor="start">2</text>
<text x="711.90" y="495.80" font-size="13.889" text-anchor="start">3</text>
<text x="711.90" y="407.80" font-size="13.889" text-anchor="start">4</text>
<text x="711.90" y="319.80" font-size="13.889" text-anchor="start">5</text>
<text x="711.90" y="231.80" font-size="13.889" text-anchor="start">6</text>
<text x="711.90" y="143.80" font-size="13.889" text-anchor="start">7</text>
<path d="M702.5 755.50h4.86M702.5 667.50h4.86M702.5 578.50h4.86M702.5 490.50h4.86M702.5 402.50h4.86M702.5 314.50h4.86M702.5 226.50h4.86M702.5 138.50h4.86" stroke="#000" stroke-width="1.1" fill="none"/>
<text transform="translate(738.6,446.8) rotate(-90)" font-size="13.889" text-anchor="middle"><tspan font-style="italic">log</tspan><tspan font-size="10.2" dy="1.6">10</tspan><tspan dy="-1.6"> Intensity (arbitrary unit)</tspan></text>
</g>
</svg></body></html>
